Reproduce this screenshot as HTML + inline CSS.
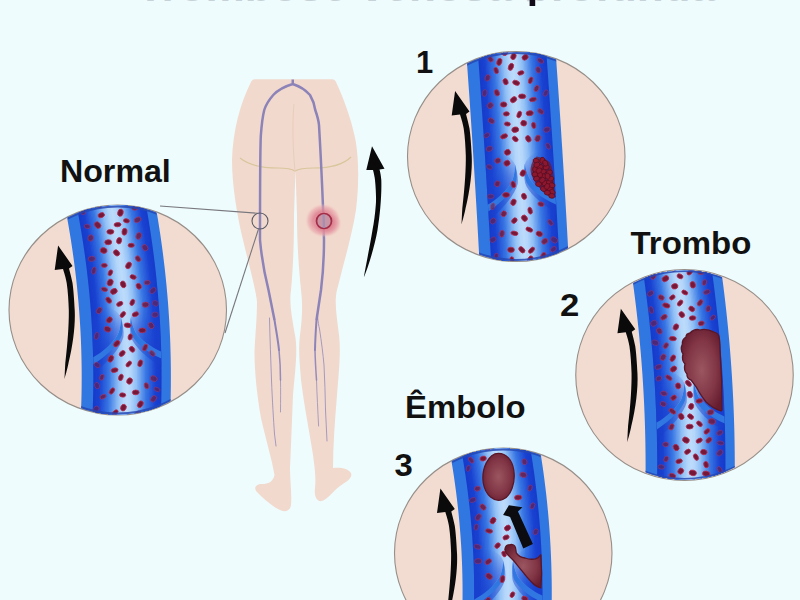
<!DOCTYPE html>
<html><head><meta charset="utf-8"><title>Trombose venosa profunda</title>
<style>
html,body{margin:0;padding:0;background:#eefcfd;overflow:hidden}
svg{display:block}
text{font-family:"Liberation Sans",sans-serif;font-weight:bold;fill:#111}
</style></head>
<body>
<svg width="800" height="600" viewBox="0 0 800 600">
<defs>
  <radialGradient id="clot" cx="0.5" cy="0.5" r="0.6">
    <stop offset="0" stop-color="#9a5660"/>
    <stop offset="0.6" stop-color="#823646"/>
    <stop offset="1" stop-color="#651c2e"/>
  </radialGradient>
  <radialGradient id="glow">
    <stop offset="0" stop-color="#d4607a" stop-opacity="1"/>
    <stop offset="0.55" stop-color="#de8292" stop-opacity="0.85"/>
    <stop offset="0.82" stop-color="#e8a2aa" stop-opacity="0.55"/>
    <stop offset="1" stop-color="#f0c8c4" stop-opacity="0"/>
  </radialGradient>
  <linearGradient id="pocket" x1="0" x2="0" y1="0" y2="1">
    <stop offset="0" stop-color="#1a43d2" stop-opacity="0"/>
    <stop offset="0.45" stop-color="#1a43d2" stop-opacity="0.45"/>
    <stop offset="1" stop-color="#183fce" stop-opacity="0.8"/>
  </linearGradient>
  <clipPath id="toprow"><rect x="0" y="0" width="800" height="1.3"/></clipPath>
  <clipPath id="cc"><ellipse rx="108.2" ry="104.4"/></clipPath>
</defs>
<rect width="800" height="600" fill="#eefcfd"/>
<g>
<!-- cropped title remnants -->
<g clip-path="url(#toprow)"><text x="137" y="1.2" font-size="44" textLength="578" lengthAdjust="spacingAndGlyphs" style="fill:#c6d2d7">Trombose venosa profunda</text></g>
<rect x="529.6" y="-1" width="5.6" height="7" fill="#120a18"/>

<path d="M255,79.2 L332,79.2 C334,79.2 335,80 336,82 C342,95 351,117 355.5,140 C359,160 359,185 356,210 C352,235 344,262 337,290 C334,302 337,318 339,335 C341,350 339,372 337,395 C335,420 333,445 333,468
 C340,467 348,468 351,473 C353,478 346,482 340,486 C333,491 328,499 322,501 C317,502 314,497 315,488 C316,478 315,470 313,455 C310,435 304,405 301,380 C300,365 298,350 300,335 C302,320 303,305 301,290 C299,270 297,245 297,215 L295.5,170 L294,215
 C294,245 293,270 291,290 C289,302 292,318 295,335 C298,350 295,372 293,395 C292,420 291,445 290,468 C290,480 292,495 291,505 C290,512 284,513 276,508 C268,503 262,497 257,492 C253,488 256,484 262,484 C268,484 273,482 274.5,475
 C272,460 266,440 261,418 C257,395 254.5,372 254.5,352 C255,338 257,318 257,302 C256,290 249,265 243,240 C237,215 232,185 232,160 C233,130 240,104 251,82 C252,80 253,79.2 255,79.2 Z" fill="#f2d9cd"/>
<!-- gluteal lines -->
<path d="M240,158 C250,166 265,168 278,168 C288,168 292,169 295,171 C298,169 304,168 314,168 C328,168 342,166 351,157" fill="none" stroke="#d8c69c" stroke-width="1.2"/>
<path d="M294,104 C292,125 293,150 295,171" fill="none" stroke="#e6cdbc" stroke-width="1"/>
<!-- veins -->
<g fill="none" stroke="#8c83b8" stroke-width="2.5" stroke-linecap="butt">
<path d="M292.75,79.5 L292.75,84 C286,86 278,90 273.25,95 C268,101 265.5,106 264.25,110 C262.5,117 261.5,126 260.8,136 C260.2,150 260,200 260,240 C262,262 266,280 268.5,290 C270.5,300 272.5,310 274.5,320"/>
<path d="M292.75,84 C299,86 306,90.5 310,95 C313,100 314.5,105 315.25,110 C317,115 318.5,120 319,125 C321,160 323,195 324,240 C324,260 322.5,278 321,290 C319.5,300 318,310 316.5,320"/>
</g>
<g fill="none" stroke="#8c83b8" stroke-linecap="round">
<path d="M274.5,320 C276,330 278,340 279,350" stroke-width="2"/>
<path d="M279,350 C280,360 280.5,370 280.5,380" stroke-width="1.5" opacity="0.9"/>
<path d="M280.5,380 C280.7,390 280.6,400 280.5,412" stroke-width="1" opacity="0.7"/>
<path d="M269.5,318 C270,340 270.8,360 271.5,380 C272.3,400 273.5,420 274.5,434 L276,446" stroke-width="1" opacity="0.75"/>
<path d="M316.5,320 C315.8,330 315.2,340 315,350" stroke-width="2"/>
<path d="M315,350 C315.2,360 315.8,370 316.5,380" stroke-width="1.5" opacity="0.9"/>
<path d="M316.5,380 C317,395 317.8,410 318.6,426" stroke-width="1" opacity="0.7"/>
<path d="M317.5,316 C318,322 318.8,326 319.5,329 C321.5,342 323,354 324,365 C324.8,380 325.2,395 325.5,410 L327,441" stroke-width="1" opacity="0.75"/>
</g>
<!-- dvt spot -->
<ellipse cx="323" cy="220.5" rx="18" ry="17" fill="url(#glow)"/><ellipse cx="327" cy="224" rx="15" ry="13" fill="url(#glow)" opacity="0.6"/>
<circle cx="324" cy="221" r="7.5" fill="#c994a4" stroke="#a42e48" stroke-width="1.7"/>
<path d="M323.6,214.5 L324,228" stroke="#9a8fb8" stroke-width="2.2" opacity="0.8"/>
<!-- callout -->
<circle cx="260" cy="221" r="8" fill="none" stroke="#5a5a66" stroke-width="1.1"/>
<path d="M257.5,213.2 L160,206" stroke="#77777d" stroke-width="1.1" fill="none"/>
<path d="M258.5,229 L225,333" stroke="#77777d" stroke-width="1.1" fill="none"/>
<!-- big arrow -->
<path d="M363.8,277.5 C368,268 375,245 377.5,230 C380,215 381.8,195 381.3,180 C381,176 380.3,172 379.5,169.5 L384.5,168.8 L372,146.3 L366.3,170 L373,170 C374,174 374.7,177 375,180 C376,190 376.3,200 375.8,205 C375,215 374,222 372.5,230 C370,245 366,265 363.8,277.5 Z" fill="#0a0a0a"/>


<g transform="translate(117.75 310)">
  <ellipse rx="108.75" ry="105" fill="#f2dbd0" stroke="#968e88" stroke-width="1.1"/>
  <g clip-path="url(#cc)">
    <g fill="none" stroke-linejoin="round">
<path d="M-9.78,-116 L-8.21,-108 L-6.72,-100 L-5.30,-92 L-3.94,-84 L-2.66,-76 L-1.44,-68 L-0.30,-60 L0.78,-52 L1.79,-44 L2.72,-36 L3.59,-28 L4.38,-20 L5.11,-12 L5.77,-4 L6.35,4 L6.87,12 L7.32,20 L7.70,28 L8.01,36 L8.24,44 L8.41,52 L8.51,60 L8.54,68 L8.50,76 L8.39,84 L8.21,92 L7.96,100 L7.64,108 L7.25,116" stroke="#3177e2" stroke-width="89.2"/>
<path d="M-8.63,-116 L-7.06,-108 L-5.57,-100 L-4.15,-92 L-2.79,-84 L-1.51,-76 L-0.29,-68 L0.85,-60 L1.93,-52 L2.94,-44 L3.87,-36 L4.74,-28 L5.53,-20 L6.26,-12 L6.92,-4 L7.50,4 L8.02,12 L8.47,20 L8.85,28 L9.16,36 L9.39,44 L9.56,52 L9.66,60 L9.69,68 L9.65,76 L9.54,84 L9.36,92 L9.11,100 L8.79,108 L8.40,116" stroke="#173bcb" stroke-width="68.30"/>
<path d="M-8.63,-116 L-7.06,-108 L-5.57,-100 L-4.15,-92 L-2.79,-84 L-1.51,-76 L-0.29,-68 L0.85,-60 L1.93,-52 L2.94,-44 L3.87,-36 L4.74,-28 L5.53,-20 L6.26,-12 L6.92,-4 L7.50,4 L8.02,12 L8.47,20 L8.85,28 L9.16,36 L9.39,44 L9.56,52 L9.66,60 L9.69,68 L9.65,76 L9.54,84 L9.36,92 L9.11,100 L8.79,108 L8.40,116" stroke="#183dcd" stroke-width="65.57"/>
<path d="M-8.63,-116 L-7.06,-108 L-5.57,-100 L-4.15,-92 L-2.79,-84 L-1.51,-76 L-0.29,-68 L0.85,-60 L1.93,-52 L2.94,-44 L3.87,-36 L4.74,-28 L5.53,-20 L6.26,-12 L6.92,-4 L7.50,4 L8.02,12 L8.47,20 L8.85,28 L9.16,36 L9.39,44 L9.56,52 L9.66,60 L9.69,68 L9.65,76 L9.54,84 L9.36,92 L9.11,100 L8.79,108 L8.40,116" stroke="#183fce" stroke-width="62.84"/>
<path d="M-8.63,-116 L-7.06,-108 L-5.57,-100 L-4.15,-92 L-2.79,-84 L-1.51,-76 L-0.29,-68 L0.85,-60 L1.93,-52 L2.94,-44 L3.87,-36 L4.74,-28 L5.53,-20 L6.26,-12 L6.92,-4 L7.50,4 L8.02,12 L8.47,20 L8.85,28 L9.16,36 L9.39,44 L9.56,52 L9.66,60 L9.69,68 L9.65,76 L9.54,84 L9.36,92 L9.11,100 L8.79,108 L8.40,116" stroke="#1941d0" stroke-width="60.10"/>
<path d="M-8.63,-116 L-7.06,-108 L-5.57,-100 L-4.15,-92 L-2.79,-84 L-1.51,-76 L-0.29,-68 L0.85,-60 L1.93,-52 L2.94,-44 L3.87,-36 L4.74,-28 L5.53,-20 L6.26,-12 L6.92,-4 L7.50,4 L8.02,12 L8.47,20 L8.85,28 L9.16,36 L9.39,44 L9.56,52 L9.66,60 L9.69,68 L9.65,76 L9.54,84 L9.36,92 L9.11,100 L8.79,108 L8.40,116" stroke="#1a43d2" stroke-width="57.37"/>
<path d="M-8.63,-116 L-7.06,-108 L-5.57,-100 L-4.15,-92 L-2.79,-84 L-1.51,-76 L-0.29,-68 L0.85,-60 L1.93,-52 L2.94,-44 L3.87,-36 L4.74,-28 L5.53,-20 L6.26,-12 L6.92,-4 L7.50,4 L8.02,12 L8.47,20 L8.85,28 L9.16,36 L9.39,44 L9.56,52 L9.66,60 L9.69,68 L9.65,76 L9.54,84 L9.36,92 L9.11,100 L8.79,108 L8.40,116" stroke="#1f4bd5" stroke-width="54.64"/>
<path d="M-8.63,-116 L-7.06,-108 L-5.57,-100 L-4.15,-92 L-2.79,-84 L-1.51,-76 L-0.29,-68 L0.85,-60 L1.93,-52 L2.94,-44 L3.87,-36 L4.74,-28 L5.53,-20 L6.26,-12 L6.92,-4 L7.50,4 L8.02,12 L8.47,20 L8.85,28 L9.16,36 L9.39,44 L9.56,52 L9.66,60 L9.69,68 L9.65,76 L9.54,84 L9.36,92 L9.11,100 L8.79,108 L8.40,116" stroke="#2352d7" stroke-width="51.91"/>
<path d="M-8.63,-116 L-7.06,-108 L-5.57,-100 L-4.15,-92 L-2.79,-84 L-1.51,-76 L-0.29,-68 L0.85,-60 L1.93,-52 L2.94,-44 L3.87,-36 L4.74,-28 L5.53,-20 L6.26,-12 L6.92,-4 L7.50,4 L8.02,12 L8.47,20 L8.85,28 L9.16,36 L9.39,44 L9.56,52 L9.66,60 L9.69,68 L9.65,76 L9.54,84 L9.36,92 L9.11,100 L8.79,108 L8.40,116" stroke="#285ada" stroke-width="49.18"/>
<path d="M-8.63,-116 L-7.06,-108 L-5.57,-100 L-4.15,-92 L-2.79,-84 L-1.51,-76 L-0.29,-68 L0.85,-60 L1.93,-52 L2.94,-44 L3.87,-36 L4.74,-28 L5.53,-20 L6.26,-12 L6.92,-4 L7.50,4 L8.02,12 L8.47,20 L8.85,28 L9.16,36 L9.39,44 L9.56,52 L9.66,60 L9.69,68 L9.65,76 L9.54,84 L9.36,92 L9.11,100 L8.79,108 L8.40,116" stroke="#2c61dc" stroke-width="46.44"/>
<path d="M-8.63,-116 L-7.06,-108 L-5.57,-100 L-4.15,-92 L-2.79,-84 L-1.51,-76 L-0.29,-68 L0.85,-60 L1.93,-52 L2.94,-44 L3.87,-36 L4.74,-28 L5.53,-20 L6.26,-12 L6.92,-4 L7.50,4 L8.02,12 L8.47,20 L8.85,28 L9.16,36 L9.39,44 L9.56,52 L9.66,60 L9.69,68 L9.65,76 L9.54,84 L9.36,92 L9.11,100 L8.79,108 L8.40,116" stroke="#3169df" stroke-width="43.71"/>
<path d="M-8.63,-116 L-7.06,-108 L-5.57,-100 L-4.15,-92 L-2.79,-84 L-1.51,-76 L-0.29,-68 L0.85,-60 L1.93,-52 L2.94,-44 L3.87,-36 L4.74,-28 L5.53,-20 L6.26,-12 L6.92,-4 L7.50,4 L8.02,12 L8.47,20 L8.85,28 L9.16,36 L9.39,44 L9.56,52 L9.66,60 L9.69,68 L9.65,76 L9.54,84 L9.36,92 L9.11,100 L8.79,108 L8.40,116" stroke="#3570e1" stroke-width="40.98"/>
<path d="M-8.63,-116 L-7.06,-108 L-5.57,-100 L-4.15,-92 L-2.79,-84 L-1.51,-76 L-0.29,-68 L0.85,-60 L1.93,-52 L2.94,-44 L3.87,-36 L4.74,-28 L5.53,-20 L6.26,-12 L6.92,-4 L7.50,4 L8.02,12 L8.47,20 L8.85,28 L9.16,36 L9.39,44 L9.56,52 L9.66,60 L9.69,68 L9.65,76 L9.54,84 L9.36,92 L9.11,100 L8.79,108 L8.40,116" stroke="#3a78e4" stroke-width="38.25"/>
<path d="M-8.63,-116 L-7.06,-108 L-5.57,-100 L-4.15,-92 L-2.79,-84 L-1.51,-76 L-0.29,-68 L0.85,-60 L1.93,-52 L2.94,-44 L3.87,-36 L4.74,-28 L5.53,-20 L6.26,-12 L6.92,-4 L7.50,4 L8.02,12 L8.47,20 L8.85,28 L9.16,36 L9.39,44 L9.56,52 L9.66,60 L9.69,68 L9.65,76 L9.54,84 L9.36,92 L9.11,100 L8.79,108 L8.40,116" stroke="#4782e7" stroke-width="35.52"/>
<path d="M-8.63,-116 L-7.06,-108 L-5.57,-100 L-4.15,-92 L-2.79,-84 L-1.51,-76 L-0.29,-68 L0.85,-60 L1.93,-52 L2.94,-44 L3.87,-36 L4.74,-28 L5.53,-20 L6.26,-12 L6.92,-4 L7.50,4 L8.02,12 L8.47,20 L8.85,28 L9.16,36 L9.39,44 L9.56,52 L9.66,60 L9.69,68 L9.65,76 L9.54,84 L9.36,92 L9.11,100 L8.79,108 L8.40,116" stroke="#538de9" stroke-width="32.78"/>
<path d="M-8.63,-116 L-7.06,-108 L-5.57,-100 L-4.15,-92 L-2.79,-84 L-1.51,-76 L-0.29,-68 L0.85,-60 L1.93,-52 L2.94,-44 L3.87,-36 L4.74,-28 L5.53,-20 L6.26,-12 L6.92,-4 L7.50,4 L8.02,12 L8.47,20 L8.85,28 L9.16,36 L9.39,44 L9.56,52 L9.66,60 L9.69,68 L9.65,76 L9.54,84 L9.36,92 L9.11,100 L8.79,108 L8.40,116" stroke="#6097ec" stroke-width="30.05"/>
<path d="M-8.63,-116 L-7.06,-108 L-5.57,-100 L-4.15,-92 L-2.79,-84 L-1.51,-76 L-0.29,-68 L0.85,-60 L1.93,-52 L2.94,-44 L3.87,-36 L4.74,-28 L5.53,-20 L6.26,-12 L6.92,-4 L7.50,4 L8.02,12 L8.47,20 L8.85,28 L9.16,36 L9.39,44 L9.56,52 L9.66,60 L9.69,68 L9.65,76 L9.54,84 L9.36,92 L9.11,100 L8.79,108 L8.40,116" stroke="#6ca1ee" stroke-width="27.32"/>
<path d="M-8.63,-116 L-7.06,-108 L-5.57,-100 L-4.15,-92 L-2.79,-84 L-1.51,-76 L-0.29,-68 L0.85,-60 L1.93,-52 L2.94,-44 L3.87,-36 L4.74,-28 L5.53,-20 L6.26,-12 L6.92,-4 L7.50,4 L8.02,12 L8.47,20 L8.85,28 L9.16,36 L9.39,44 L9.56,52 L9.66,60 L9.69,68 L9.65,76 L9.54,84 L9.36,92 L9.11,100 L8.79,108 L8.40,116" stroke="#79abf1" stroke-width="24.59"/>
<path d="M-8.63,-116 L-7.06,-108 L-5.57,-100 L-4.15,-92 L-2.79,-84 L-1.51,-76 L-0.29,-68 L0.85,-60 L1.93,-52 L2.94,-44 L3.87,-36 L4.74,-28 L5.53,-20 L6.26,-12 L6.92,-4 L7.50,4 L8.02,12 L8.47,20 L8.85,28 L9.16,36 L9.39,44 L9.56,52 L9.66,60 L9.69,68 L9.65,76 L9.54,84 L9.36,92 L9.11,100 L8.79,108 L8.40,116" stroke="#85b6f3" stroke-width="21.86"/>
<path d="M-8.63,-116 L-7.06,-108 L-5.57,-100 L-4.15,-92 L-2.79,-84 L-1.51,-76 L-0.29,-68 L0.85,-60 L1.93,-52 L2.94,-44 L3.87,-36 L4.74,-28 L5.53,-20 L6.26,-12 L6.92,-4 L7.50,4 L8.02,12 L8.47,20 L8.85,28 L9.16,36 L9.39,44 L9.56,52 L9.66,60 L9.69,68 L9.65,76 L9.54,84 L9.36,92 L9.11,100 L8.79,108 L8.40,116" stroke="#92c0f6" stroke-width="19.12"/>
<path d="M-8.63,-116 L-7.06,-108 L-5.57,-100 L-4.15,-92 L-2.79,-84 L-1.51,-76 L-0.29,-68 L0.85,-60 L1.93,-52 L2.94,-44 L3.87,-36 L4.74,-28 L5.53,-20 L6.26,-12 L6.92,-4 L7.50,4 L8.02,12 L8.47,20 L8.85,28 L9.16,36 L9.39,44 L9.56,52 L9.66,60 L9.69,68 L9.65,76 L9.54,84 L9.36,92 L9.11,100 L8.79,108 L8.40,116" stroke="#9ac6f7" stroke-width="16.39"/>
<path d="M-8.63,-116 L-7.06,-108 L-5.57,-100 L-4.15,-92 L-2.79,-84 L-1.51,-76 L-0.29,-68 L0.85,-60 L1.93,-52 L2.94,-44 L3.87,-36 L4.74,-28 L5.53,-20 L6.26,-12 L6.92,-4 L7.50,4 L8.02,12 L8.47,20 L8.85,28 L9.16,36 L9.39,44 L9.56,52 L9.66,60 L9.69,68 L9.65,76 L9.54,84 L9.36,92 L9.11,100 L8.79,108 L8.40,116" stroke="#a3cbf8" stroke-width="13.66"/>
<path d="M-8.63,-116 L-7.06,-108 L-5.57,-100 L-4.15,-92 L-2.79,-84 L-1.51,-76 L-0.29,-68 L0.85,-60 L1.93,-52 L2.94,-44 L3.87,-36 L4.74,-28 L5.53,-20 L6.26,-12 L6.92,-4 L7.50,4 L8.02,12 L8.47,20 L8.85,28 L9.16,36 L9.39,44 L9.56,52 L9.66,60 L9.69,68 L9.65,76 L9.54,84 L9.36,92 L9.11,100 L8.79,108 L8.40,116" stroke="#acd0f9" stroke-width="10.93"/>
<path d="M-8.63,-116 L-7.06,-108 L-5.57,-100 L-4.15,-92 L-2.79,-84 L-1.51,-76 L-0.29,-68 L0.85,-60 L1.93,-52 L2.94,-44 L3.87,-36 L4.74,-28 L5.53,-20 L6.26,-12 L6.92,-4 L7.50,4 L8.02,12 L8.47,20 L8.85,28 L9.16,36 L9.39,44 L9.56,52 L9.66,60 L9.69,68 L9.65,76 L9.54,84 L9.36,92 L9.11,100 L8.79,108 L8.40,116" stroke="#b4d6fa" stroke-width="8.20"/>
<path d="M-8.63,-116 L-7.06,-108 L-5.57,-100 L-4.15,-92 L-2.79,-84 L-1.51,-76 L-0.29,-68 L0.85,-60 L1.93,-52 L2.94,-44 L3.87,-36 L4.74,-28 L5.53,-20 L6.26,-12 L6.92,-4 L7.50,4 L8.02,12 L8.47,20 L8.85,28 L9.16,36 L9.39,44 L9.56,52 L9.66,60 L9.69,68 L9.65,76 L9.54,84 L9.36,92 L9.11,100 L8.79,108 L8.40,116" stroke="#b7d8fa" stroke-width="5.46"/>
<path d="M-8.63,-116 L-7.06,-108 L-5.57,-100 L-4.15,-92 L-2.79,-84 L-1.51,-76 L-0.29,-68 L0.85,-60 L1.93,-52 L2.94,-44 L3.87,-36 L4.74,-28 L5.53,-20 L6.26,-12 L6.92,-4 L7.50,4 L8.02,12 L8.47,20 L8.85,28 L9.16,36 L9.39,44 L9.56,52 L9.66,60 L9.69,68 L9.65,76 L9.54,84 L9.36,92 L9.11,100 L8.79,108 L8.40,116" stroke="#b9d9fb" stroke-width="2.73"/>
<path d="M-8.63,-116 L-7.06,-108 L-5.57,-100 L-4.15,-92 L-2.79,-84 L-1.51,-76 L-0.29,-68 L0.85,-60 L1.93,-52 L2.94,-44 L3.87,-36 L4.74,-28 L5.53,-20 L6.26,-12 L6.92,-4 L7.50,4 L8.02,12 L8.47,20 L8.85,28 L9.16,36 L9.39,44 L9.56,52 L9.66,60 L9.69,68 L9.65,76 L9.54,84 L9.36,92 L9.11,100 L8.79,108 L8.40,116" stroke="#bcdbfb" stroke-width="2.00"/>
</g>
<g transform="translate(8.78 30) rotate(-2.33)">
  <path d="M-4.5,-22 C-5,-16 -6.5,-10 -8.5,-6 C-14,3 -24,11 -34,16 L-34,-34 C-22,-36 -9,-34 -4.5,-22 Z" fill="url(#pocket)"/>
  <path d="M5.2,-22 C6,-16 7.5,-11 10,-6 C15,1 24,8 34,13 L34,-34 C24,-36 10,-34 5.2,-22 Z" fill="url(#pocket)"/>
  <path d="M-34,21 C-20,13 -10,4 -5.5,-5 C-4.5,-10 -4,-16 -4.5,-22 C-3,-16 -2,-9 -3,-3 C-6.5,8 -18,20 -34,32 Z" fill="#1a40cc" opacity="0.45"/>
  <path d="M34,18 C24,13 14,5 8,-4 C6,-10 5.5,-16 5.2,-22 C4,-16 3.5,-9 4.5,-3 C7,6 18,18 34,28 Z" fill="#1a40cc" opacity="0.45"/>
  <path d="M-34,16 C-24,11 -14,3 -8.5,-6 C-6.5,-10 -5,-16 -4.5,-22 C-3.5,-16 -3,-10 -4.5,-5 C-8.5,4 -18,13 -34,23 Z" fill="#3177e2"/>
  <path d="M34,13 C24,8 15,1 10,-6 C7.5,-11 6,-16 5.2,-22 C4.5,-16 4.5,-10 5.5,-5 C8,2 18,12 34,20 Z" fill="#3177e2"/>
</g>
    <g fill="#751838" stroke="#b62e54" stroke-width="0.8">
      <ellipse cx="-8.4" cy="9.9" rx="3.2" ry="2.6" opacity="0.97" transform="rotate(-48 -8.4 9.9)"/>
<ellipse cx="2.7" cy="-97.3" rx="3.6" ry="2.7" opacity="1.00" transform="rotate(-75 2.7 -97.3)"/>
<ellipse cx="-20.7" cy="75.6" rx="3.3" ry="2.4" opacity="0.56" transform="rotate(72 -20.7 75.6)"/>
<ellipse cx="-14.1" cy="-59.5" rx="3.4" ry="2.8" opacity="1.00" transform="rotate(13 -14.1 -59.5)"/>
<ellipse cx="37.6" cy="-6.7" rx="3.2" ry="2.7" opacity="0.54" transform="rotate(30 37.6 -6.7)"/>
<ellipse cx="27.8" cy="-5.3" rx="3.4" ry="2.6" opacity="0.83" transform="rotate(-3 27.8 -5.3)"/>
<ellipse cx="6.8" cy="-78.3" rx="3.5" ry="2.5" opacity="1.00" transform="rotate(-80 6.8 -78.3)"/>
<ellipse cx="18.0" cy="82.4" rx="3.4" ry="2.4" opacity="1.00" transform="rotate(-1 18.0 82.4)"/>
<ellipse cx="11.0" cy="54.0" rx="3.4" ry="2.0" opacity="1.00" transform="rotate(-49 11.0 54.0)"/>
<ellipse cx="24.6" cy="20.4" rx="3.5" ry="2.4" opacity="0.97" transform="rotate(0 24.6 20.4)"/>
<ellipse cx="-18.9" cy="-105.1" rx="3.7" ry="2.7" opacity="1.00" transform="rotate(11 -18.9 -105.1)"/>
<ellipse cx="22.6" cy="94.3" rx="3.6" ry="2.5" opacity="1.00" transform="rotate(-58 22.6 94.3)"/>
<ellipse cx="3.1" cy="67.4" rx="3.3" ry="2.2" opacity="1.00" transform="rotate(-72 3.1 67.4)"/>
<ellipse cx="5.7" cy="97.6" rx="3.4" ry="2.7" opacity="1.00" transform="rotate(-68 5.7 97.6)"/>
<ellipse cx="19.8" cy="-90.2" rx="3.6" ry="2.6" opacity="0.75" transform="rotate(-28 19.8 -90.2)"/>
<ellipse cx="10.8" cy="-44.6" rx="3.6" ry="2.5" opacity="1.00" transform="rotate(-59 10.8 -44.6)"/>
<ellipse cx="5.4" cy="-25.6" rx="3.5" ry="2.6" opacity="1.00" transform="rotate(68 5.4 -25.6)"/>
<ellipse cx="30.9" cy="110.0" rx="3.6" ry="2.7" opacity="0.79" transform="rotate(-25 30.9 110.0)"/>
<ellipse cx="33.4" cy="15.5" rx="3.3" ry="2.6" opacity="0.70" transform="rotate(58 33.4 15.5)"/>
<ellipse cx="13.5" cy="-64.7" rx="3.1" ry="2.0" opacity="1.00" transform="rotate(-2 13.5 -64.7)"/>
<ellipse cx="-15.9" cy="67.3" rx="3.1" ry="2.1" opacity="0.70" transform="rotate(-68 -15.9 67.3)"/>
<ellipse cx="-7.4" cy="-78.2" rx="3.5" ry="2.4" opacity="1.00" transform="rotate(-0 -7.4 -78.2)"/>
<ellipse cx="-3.2" cy="60.2" rx="3.5" ry="2.2" opacity="1.00" transform="rotate(-12 -3.2 60.2)"/>
<ellipse cx="17.3" cy="-102.1" rx="3.5" ry="2.3" opacity="0.76" transform="rotate(-6 17.3 -102.1)"/>
<ellipse cx="9.0" cy="111.7" rx="3.6" ry="2.6" opacity="1.00" transform="rotate(-51 9.0 111.7)"/>
<ellipse cx="-16.5" cy="-94.8" rx="3.3" ry="2.4" opacity="1.00" transform="rotate(-21 -16.5 -94.8)"/>
<ellipse cx="-13.4" cy="-20.6" rx="3.2" ry="2.0" opacity="0.90" transform="rotate(15 -13.4 -20.6)"/>
<ellipse cx="-2.6" cy="102.7" rx="3.5" ry="2.1" opacity="1.00" transform="rotate(-47 -2.6 102.7)"/>
<ellipse cx="29.5" cy="-27.4" rx="3.1" ry="2.2" opacity="0.72" transform="rotate(-6 29.5 -27.4)"/>
<ellipse cx="5.1" cy="4.5" rx="3.3" ry="2.1" opacity="1.00" transform="rotate(-53 5.1 4.5)"/>
<ellipse cx="12.5" cy="26.9" rx="3.1" ry="2.1" opacity="1.00" transform="rotate(-76 12.5 26.9)"/>
<ellipse cx="-13.5" cy="-44.6" rx="3.0" ry="2.0" opacity="0.97" transform="rotate(-2 -13.5 -44.6)"/>
<ellipse cx="37.3" cy="4.7" rx="3.3" ry="2.6" opacity="0.57" transform="rotate(-8 37.3 4.7)"/>
<ellipse cx="-4.3" cy="-109.4" rx="3.3" ry="2.3" opacity="1.00" transform="rotate(-72 -4.3 -109.4)"/>
<ellipse cx="-21.1" cy="25.9" rx="3.7" ry="2.2" opacity="0.57" transform="rotate(-76 -21.1 25.9)"/>
<ellipse cx="14.6" cy="-7.6" rx="3.3" ry="2.1" opacity="1.00" transform="rotate(-65 14.6 -7.6)"/>
<ellipse cx="15.4" cy="-33.0" rx="3.2" ry="2.1" opacity="1.00" transform="rotate(20 15.4 -33.0)"/>
<ellipse cx="22.5" cy="53.3" rx="3.5" ry="2.2" opacity="1.00" transform="rotate(-72 22.5 53.3)"/>
<ellipse cx="-35.1" cy="-98.4" rx="3.3" ry="2.7" opacity="0.58" transform="rotate(46 -35.1 -98.4)"/>
<ellipse cx="19.9" cy="103.8" rx="3.2" ry="2.2" opacity="1.00" transform="rotate(-32 19.9 103.8)"/>
<ellipse cx="-9.1" cy="-9.8" rx="3.4" ry="2.3" opacity="1.00" transform="rotate(50 -9.1 -9.8)"/>
<ellipse cx="-7.6" cy="-27.5" rx="3.5" ry="2.8" opacity="1.00" transform="rotate(-65 -7.6 -27.5)"/>
<ellipse cx="8.7" cy="-89.2" rx="3.0" ry="2.0" opacity="1.00" transform="rotate(15 8.7 -89.2)"/>
<ellipse cx="-7.4" cy="-37.2" rx="3.1" ry="2.0" opacity="1.00" transform="rotate(-66 -7.4 -37.2)"/>
<ellipse cx="20.9" cy="-74.1" rx="3.5" ry="2.7" opacity="0.79" transform="rotate(-71 20.9 -74.1)"/>
<ellipse cx="-1.1" cy="33.7" rx="3.7" ry="2.4" opacity="1.00" transform="rotate(-48 -1.1 33.7)"/>
<ellipse cx="-20.1" cy="-84.9" rx="3.6" ry="2.8" opacity="0.95" transform="rotate(49 -20.1 -84.9)"/>
<ellipse cx="1.4" cy="-69.3" rx="3.2" ry="2.5" opacity="1.00" transform="rotate(-75 1.4 -69.3)"/>
<ellipse cx="28.8" cy="75.8" rx="3.1" ry="2.2" opacity="0.88" transform="rotate(71 28.8 75.8)"/>
<ellipse cx="20.3" cy="-51.3" rx="3.1" ry="2.3" opacity="0.91" transform="rotate(56 20.3 -51.3)"/>
<ellipse cx="-3.9" cy="-18.6" rx="3.5" ry="2.7" opacity="1.00" transform="rotate(-27 -3.9 -18.6)"/>
<ellipse cx="-21.7" cy="99.3" rx="3.5" ry="2.6" opacity="0.55" transform="rotate(-52 -21.7 99.3)"/>
<ellipse cx="27.2" cy="-62.3" rx="3.4" ry="2.7" opacity="0.66" transform="rotate(54 27.2 -62.3)"/>
<ellipse cx="17.7" cy="4.3" rx="3.3" ry="2.2" opacity="1.00" transform="rotate(-22 17.7 4.3)"/>
<ellipse cx="34.5" cy="43.4" rx="3.3" ry="2.2" opacity="0.71" transform="rotate(45 34.5 43.4)"/>
<ellipse cx="35.8" cy="88.8" rx="3.5" ry="2.5" opacity="0.67" transform="rotate(-53 35.8 88.8)"/>
<ellipse cx="-20.7" cy="54.9" rx="3.3" ry="2.4" opacity="0.56" transform="rotate(34 -20.7 54.9)"/>
<ellipse cx="-5.8" cy="81.0" rx="3.5" ry="2.0" opacity="1.00" transform="rotate(-55 -5.8 81.0)"/>
<ellipse cx="-9.5" cy="-67.8" rx="3.5" ry="2.5" opacity="1.00" transform="rotate(-5 -9.5 -67.8)"/>
<ellipse cx="11.8" cy="71.0" rx="3.2" ry="2.7" opacity="1.00" transform="rotate(-64 11.8 71.0)"/>
<ellipse cx="36.0" cy="68.6" rx="3.6" ry="2.7" opacity="0.67" transform="rotate(23 36.0 68.6)"/>
<ellipse cx="-26.0" cy="-51.2" rx="3.6" ry="2.6" opacity="0.63" transform="rotate(-8 -26.0 -51.2)"/>
<ellipse cx="2.0" cy="-6.1" rx="3.3" ry="2.1" opacity="1.00" transform="rotate(-27 2.0 -6.1)"/>
<ellipse cx="9.5" cy="-111.6" rx="3.7" ry="2.1" opacity="0.94" transform="rotate(-16 9.5 -111.6)"/>
<ellipse cx="-30.5" cy="-83.6" rx="3.1" ry="2.1" opacity="0.64" transform="rotate(11 -30.5 -83.6)"/>
<ellipse cx="39.2" cy="79.4" rx="3.2" ry="2.0" opacity="0.58" transform="rotate(24 39.2 79.4)"/>
<ellipse cx="-18.5" cy="0.5" rx="3.5" ry="2.5" opacity="0.70" transform="rotate(-56 -18.5 0.5)"/>
<ellipse cx="-27.1" cy="-72.0" rx="3.2" ry="2.8" opacity="0.68" transform="rotate(-78 -27.1 -72.0)"/>
<ellipse cx="4.4" cy="43.5" rx="3.4" ry="2.3" opacity="1.00" transform="rotate(-45 4.4 43.5)"/>
<ellipse cx="-1.2" cy="-57.1" rx="3.4" ry="2.6" opacity="1.00" transform="rotate(45 -1.2 -57.1)"/>
<ellipse cx="4.9" cy="85.0" rx="3.1" ry="2.1" opacity="1.00" transform="rotate(6 4.9 85.0)"/>
<ellipse cx="27.4" cy="37.5" rx="3.6" ry="2.1" opacity="0.91" transform="rotate(-67 27.4 37.5)"/>
<ellipse cx="-23.9" cy="-39.4" rx="3.7" ry="2.2" opacity="0.65" transform="rotate(-76 -23.9 -39.4)"/>
<ellipse cx="21.0" cy="-23.8" rx="3.1" ry="2.4" opacity="0.98" transform="rotate(63 21.0 -23.8)"/>
<ellipse cx="35.1" cy="-19.5" rx="3.6" ry="2.5" opacity="0.58" transform="rotate(-44 35.1 -19.5)"/>
<ellipse cx="-10.3" cy="19.2" rx="3.5" ry="2.7" opacity="0.90" transform="rotate(23 -10.3 19.2)"/>
<ellipse cx="-13.5" cy="110.0" rx="3.4" ry="2.4" opacity="0.80" transform="rotate(-25 -13.5 110.0)"/>
<ellipse cx="-7.0" cy="48.8" rx="3.6" ry="2.5" opacity="0.97" transform="rotate(-62 -7.0 48.8)"/>
<ellipse cx="14.3" cy="39.3" rx="3.1" ry="2.4" opacity="1.00" transform="rotate(50 14.3 39.3)"/>
<ellipse cx="-0.2" cy="-85.3" rx="3.5" ry="2.1" opacity="1.00" transform="rotate(-6 -0.2 -85.3)"/>
<ellipse cx="-14.7" cy="86.7" rx="3.3" ry="2.1" opacity="0.74" transform="rotate(-25 -14.7 86.7)"/>
<ellipse cx="9.9" cy="15.3" rx="3.5" ry="2.3" opacity="1.00" transform="rotate(8 9.9 15.3)"/>
    </g>
   
   <clipPath id="vc3"><path d="M-54.38,-116 L-52.81,-108 L-51.32,-100 L-49.90,-92 L-48.54,-84 L-47.26,-76 L-46.04,-68 L-44.90,-60 L-43.82,-52 L-42.81,-44 L-41.88,-36 L-41.01,-28 L-40.22,-20 L-39.49,-12 L-38.83,-4 L-38.25,4 L-37.73,12 L-37.28,20 L-36.90,28 L-36.59,36 L-36.36,44 L-36.19,52 L-36.09,60 L-36.06,68 L-36.10,76 L-36.21,84 L-36.39,92 L-36.64,100 L-36.96,108 L-37.35,116 L51.85,116 L52.24,108 L52.56,100 L52.81,92 L52.99,84 L53.10,76 L53.14,68 L53.11,60 L53.01,52 L52.84,44 L52.61,36 L52.30,28 L51.92,20 L51.47,12 L50.95,4 L50.37,-4 L49.71,-12 L48.98,-20 L48.19,-28 L47.32,-36 L46.39,-44 L45.38,-52 L44.30,-60 L43.16,-68 L41.94,-76 L40.66,-84 L39.30,-92 L37.88,-100 L36.39,-108 L34.82,-116 Z"/></clipPath>
   <ellipse rx="108.75" ry="105" fill="none" stroke="#2648b4" stroke-width="5" clip-path="url(#vc3)" opacity="0.85"/>
  </g>
  <g transform="translate(1.25 0)"><path d="M-54.5,69 C-52,60 -51,56 -50.5,53 C-46,35 -43.5,15 -44.3,0 C-44.8,-10 -45.5,-20 -46.5,-27 C-47.5,-32 -48.5,-36 -50,-41.5 L-46.5,-44 L-60.9,-64.5 L-64.3,-40 L-56,-41 C-54,-35 -53,-31 -52.3,-27 C-51,-18 -50.5,-9 -50.2,0 C-50,12 -51,30 -53.7,53 C-54,58 -54.2,63 -54.5,69 Z" fill="#0a0a0a"/></g>
</g>

<g transform="translate(516.25 156.5)">
  <ellipse rx="108.75" ry="105" fill="#f2dbd0" stroke="#968e88" stroke-width="1.1"/>
  <g clip-path="url(#cc)">
    <g fill="none" stroke-linejoin="round">
<path d="M-6.20,-116 L-5.61,-108 L-5.02,-100 L-4.44,-92 L-3.87,-84 L-3.30,-76 L-2.74,-68 L-2.18,-60 L-1.64,-52 L-1.09,-44 L-0.56,-36 L-0.03,-28 L0.50,-20 L1.01,-12 L1.53,-4 L2.03,4 L2.53,12 L3.02,20 L3.51,28 L3.99,36 L4.47,44 L4.94,52 L5.40,60 L5.86,68 L6.31,76 L6.75,84 L7.19,92 L7.62,100 L8.05,108 L8.47,116" stroke="#3177e2" stroke-width="89.2"/>
<path d="M-5.05,-116 L-4.46,-108 L-3.87,-100 L-3.29,-92 L-2.72,-84 L-2.15,-76 L-1.59,-68 L-1.03,-60 L-0.49,-52 L0.06,-44 L0.59,-36 L1.12,-28 L1.65,-20 L2.16,-12 L2.68,-4 L3.18,4 L3.68,12 L4.17,20 L4.66,28 L5.14,36 L5.62,44 L6.09,52 L6.55,60 L7.01,68 L7.46,76 L7.90,84 L8.34,92 L8.77,100 L9.20,108 L9.62,116" stroke="#173bcb" stroke-width="68.30"/>
<path d="M-5.05,-116 L-4.46,-108 L-3.87,-100 L-3.29,-92 L-2.72,-84 L-2.15,-76 L-1.59,-68 L-1.03,-60 L-0.49,-52 L0.06,-44 L0.59,-36 L1.12,-28 L1.65,-20 L2.16,-12 L2.68,-4 L3.18,4 L3.68,12 L4.17,20 L4.66,28 L5.14,36 L5.62,44 L6.09,52 L6.55,60 L7.01,68 L7.46,76 L7.90,84 L8.34,92 L8.77,100 L9.20,108 L9.62,116" stroke="#183dcd" stroke-width="65.57"/>
<path d="M-5.05,-116 L-4.46,-108 L-3.87,-100 L-3.29,-92 L-2.72,-84 L-2.15,-76 L-1.59,-68 L-1.03,-60 L-0.49,-52 L0.06,-44 L0.59,-36 L1.12,-28 L1.65,-20 L2.16,-12 L2.68,-4 L3.18,4 L3.68,12 L4.17,20 L4.66,28 L5.14,36 L5.62,44 L6.09,52 L6.55,60 L7.01,68 L7.46,76 L7.90,84 L8.34,92 L8.77,100 L9.20,108 L9.62,116" stroke="#183fce" stroke-width="62.84"/>
<path d="M-5.05,-116 L-4.46,-108 L-3.87,-100 L-3.29,-92 L-2.72,-84 L-2.15,-76 L-1.59,-68 L-1.03,-60 L-0.49,-52 L0.06,-44 L0.59,-36 L1.12,-28 L1.65,-20 L2.16,-12 L2.68,-4 L3.18,4 L3.68,12 L4.17,20 L4.66,28 L5.14,36 L5.62,44 L6.09,52 L6.55,60 L7.01,68 L7.46,76 L7.90,84 L8.34,92 L8.77,100 L9.20,108 L9.62,116" stroke="#1941d0" stroke-width="60.10"/>
<path d="M-5.05,-116 L-4.46,-108 L-3.87,-100 L-3.29,-92 L-2.72,-84 L-2.15,-76 L-1.59,-68 L-1.03,-60 L-0.49,-52 L0.06,-44 L0.59,-36 L1.12,-28 L1.65,-20 L2.16,-12 L2.68,-4 L3.18,4 L3.68,12 L4.17,20 L4.66,28 L5.14,36 L5.62,44 L6.09,52 L6.55,60 L7.01,68 L7.46,76 L7.90,84 L8.34,92 L8.77,100 L9.20,108 L9.62,116" stroke="#1a43d2" stroke-width="57.37"/>
<path d="M-5.05,-116 L-4.46,-108 L-3.87,-100 L-3.29,-92 L-2.72,-84 L-2.15,-76 L-1.59,-68 L-1.03,-60 L-0.49,-52 L0.06,-44 L0.59,-36 L1.12,-28 L1.65,-20 L2.16,-12 L2.68,-4 L3.18,4 L3.68,12 L4.17,20 L4.66,28 L5.14,36 L5.62,44 L6.09,52 L6.55,60 L7.01,68 L7.46,76 L7.90,84 L8.34,92 L8.77,100 L9.20,108 L9.62,116" stroke="#1f4bd5" stroke-width="54.64"/>
<path d="M-5.05,-116 L-4.46,-108 L-3.87,-100 L-3.29,-92 L-2.72,-84 L-2.15,-76 L-1.59,-68 L-1.03,-60 L-0.49,-52 L0.06,-44 L0.59,-36 L1.12,-28 L1.65,-20 L2.16,-12 L2.68,-4 L3.18,4 L3.68,12 L4.17,20 L4.66,28 L5.14,36 L5.62,44 L6.09,52 L6.55,60 L7.01,68 L7.46,76 L7.90,84 L8.34,92 L8.77,100 L9.20,108 L9.62,116" stroke="#2352d7" stroke-width="51.91"/>
<path d="M-5.05,-116 L-4.46,-108 L-3.87,-100 L-3.29,-92 L-2.72,-84 L-2.15,-76 L-1.59,-68 L-1.03,-60 L-0.49,-52 L0.06,-44 L0.59,-36 L1.12,-28 L1.65,-20 L2.16,-12 L2.68,-4 L3.18,4 L3.68,12 L4.17,20 L4.66,28 L5.14,36 L5.62,44 L6.09,52 L6.55,60 L7.01,68 L7.46,76 L7.90,84 L8.34,92 L8.77,100 L9.20,108 L9.62,116" stroke="#285ada" stroke-width="49.18"/>
<path d="M-5.05,-116 L-4.46,-108 L-3.87,-100 L-3.29,-92 L-2.72,-84 L-2.15,-76 L-1.59,-68 L-1.03,-60 L-0.49,-52 L0.06,-44 L0.59,-36 L1.12,-28 L1.65,-20 L2.16,-12 L2.68,-4 L3.18,4 L3.68,12 L4.17,20 L4.66,28 L5.14,36 L5.62,44 L6.09,52 L6.55,60 L7.01,68 L7.46,76 L7.90,84 L8.34,92 L8.77,100 L9.20,108 L9.62,116" stroke="#2c61dc" stroke-width="46.44"/>
<path d="M-5.05,-116 L-4.46,-108 L-3.87,-100 L-3.29,-92 L-2.72,-84 L-2.15,-76 L-1.59,-68 L-1.03,-60 L-0.49,-52 L0.06,-44 L0.59,-36 L1.12,-28 L1.65,-20 L2.16,-12 L2.68,-4 L3.18,4 L3.68,12 L4.17,20 L4.66,28 L5.14,36 L5.62,44 L6.09,52 L6.55,60 L7.01,68 L7.46,76 L7.90,84 L8.34,92 L8.77,100 L9.20,108 L9.62,116" stroke="#3169df" stroke-width="43.71"/>
<path d="M-5.05,-116 L-4.46,-108 L-3.87,-100 L-3.29,-92 L-2.72,-84 L-2.15,-76 L-1.59,-68 L-1.03,-60 L-0.49,-52 L0.06,-44 L0.59,-36 L1.12,-28 L1.65,-20 L2.16,-12 L2.68,-4 L3.18,4 L3.68,12 L4.17,20 L4.66,28 L5.14,36 L5.62,44 L6.09,52 L6.55,60 L7.01,68 L7.46,76 L7.90,84 L8.34,92 L8.77,100 L9.20,108 L9.62,116" stroke="#3570e1" stroke-width="40.98"/>
<path d="M-5.05,-116 L-4.46,-108 L-3.87,-100 L-3.29,-92 L-2.72,-84 L-2.15,-76 L-1.59,-68 L-1.03,-60 L-0.49,-52 L0.06,-44 L0.59,-36 L1.12,-28 L1.65,-20 L2.16,-12 L2.68,-4 L3.18,4 L3.68,12 L4.17,20 L4.66,28 L5.14,36 L5.62,44 L6.09,52 L6.55,60 L7.01,68 L7.46,76 L7.90,84 L8.34,92 L8.77,100 L9.20,108 L9.62,116" stroke="#3a78e4" stroke-width="38.25"/>
<path d="M-5.05,-116 L-4.46,-108 L-3.87,-100 L-3.29,-92 L-2.72,-84 L-2.15,-76 L-1.59,-68 L-1.03,-60 L-0.49,-52 L0.06,-44 L0.59,-36 L1.12,-28 L1.65,-20 L2.16,-12 L2.68,-4 L3.18,4 L3.68,12 L4.17,20 L4.66,28 L5.14,36 L5.62,44 L6.09,52 L6.55,60 L7.01,68 L7.46,76 L7.90,84 L8.34,92 L8.77,100 L9.20,108 L9.62,116" stroke="#4782e7" stroke-width="35.52"/>
<path d="M-5.05,-116 L-4.46,-108 L-3.87,-100 L-3.29,-92 L-2.72,-84 L-2.15,-76 L-1.59,-68 L-1.03,-60 L-0.49,-52 L0.06,-44 L0.59,-36 L1.12,-28 L1.65,-20 L2.16,-12 L2.68,-4 L3.18,4 L3.68,12 L4.17,20 L4.66,28 L5.14,36 L5.62,44 L6.09,52 L6.55,60 L7.01,68 L7.46,76 L7.90,84 L8.34,92 L8.77,100 L9.20,108 L9.62,116" stroke="#538de9" stroke-width="32.78"/>
<path d="M-5.05,-116 L-4.46,-108 L-3.87,-100 L-3.29,-92 L-2.72,-84 L-2.15,-76 L-1.59,-68 L-1.03,-60 L-0.49,-52 L0.06,-44 L0.59,-36 L1.12,-28 L1.65,-20 L2.16,-12 L2.68,-4 L3.18,4 L3.68,12 L4.17,20 L4.66,28 L5.14,36 L5.62,44 L6.09,52 L6.55,60 L7.01,68 L7.46,76 L7.90,84 L8.34,92 L8.77,100 L9.20,108 L9.62,116" stroke="#6097ec" stroke-width="30.05"/>
<path d="M-5.05,-116 L-4.46,-108 L-3.87,-100 L-3.29,-92 L-2.72,-84 L-2.15,-76 L-1.59,-68 L-1.03,-60 L-0.49,-52 L0.06,-44 L0.59,-36 L1.12,-28 L1.65,-20 L2.16,-12 L2.68,-4 L3.18,4 L3.68,12 L4.17,20 L4.66,28 L5.14,36 L5.62,44 L6.09,52 L6.55,60 L7.01,68 L7.46,76 L7.90,84 L8.34,92 L8.77,100 L9.20,108 L9.62,116" stroke="#6ca1ee" stroke-width="27.32"/>
<path d="M-5.05,-116 L-4.46,-108 L-3.87,-100 L-3.29,-92 L-2.72,-84 L-2.15,-76 L-1.59,-68 L-1.03,-60 L-0.49,-52 L0.06,-44 L0.59,-36 L1.12,-28 L1.65,-20 L2.16,-12 L2.68,-4 L3.18,4 L3.68,12 L4.17,20 L4.66,28 L5.14,36 L5.62,44 L6.09,52 L6.55,60 L7.01,68 L7.46,76 L7.90,84 L8.34,92 L8.77,100 L9.20,108 L9.62,116" stroke="#79abf1" stroke-width="24.59"/>
<path d="M-5.05,-116 L-4.46,-108 L-3.87,-100 L-3.29,-92 L-2.72,-84 L-2.15,-76 L-1.59,-68 L-1.03,-60 L-0.49,-52 L0.06,-44 L0.59,-36 L1.12,-28 L1.65,-20 L2.16,-12 L2.68,-4 L3.18,4 L3.68,12 L4.17,20 L4.66,28 L5.14,36 L5.62,44 L6.09,52 L6.55,60 L7.01,68 L7.46,76 L7.90,84 L8.34,92 L8.77,100 L9.20,108 L9.62,116" stroke="#85b6f3" stroke-width="21.86"/>
<path d="M-5.05,-116 L-4.46,-108 L-3.87,-100 L-3.29,-92 L-2.72,-84 L-2.15,-76 L-1.59,-68 L-1.03,-60 L-0.49,-52 L0.06,-44 L0.59,-36 L1.12,-28 L1.65,-20 L2.16,-12 L2.68,-4 L3.18,4 L3.68,12 L4.17,20 L4.66,28 L5.14,36 L5.62,44 L6.09,52 L6.55,60 L7.01,68 L7.46,76 L7.90,84 L8.34,92 L8.77,100 L9.20,108 L9.62,116" stroke="#92c0f6" stroke-width="19.12"/>
<path d="M-5.05,-116 L-4.46,-108 L-3.87,-100 L-3.29,-92 L-2.72,-84 L-2.15,-76 L-1.59,-68 L-1.03,-60 L-0.49,-52 L0.06,-44 L0.59,-36 L1.12,-28 L1.65,-20 L2.16,-12 L2.68,-4 L3.18,4 L3.68,12 L4.17,20 L4.66,28 L5.14,36 L5.62,44 L6.09,52 L6.55,60 L7.01,68 L7.46,76 L7.90,84 L8.34,92 L8.77,100 L9.20,108 L9.62,116" stroke="#9ac6f7" stroke-width="16.39"/>
<path d="M-5.05,-116 L-4.46,-108 L-3.87,-100 L-3.29,-92 L-2.72,-84 L-2.15,-76 L-1.59,-68 L-1.03,-60 L-0.49,-52 L0.06,-44 L0.59,-36 L1.12,-28 L1.65,-20 L2.16,-12 L2.68,-4 L3.18,4 L3.68,12 L4.17,20 L4.66,28 L5.14,36 L5.62,44 L6.09,52 L6.55,60 L7.01,68 L7.46,76 L7.90,84 L8.34,92 L8.77,100 L9.20,108 L9.62,116" stroke="#a3cbf8" stroke-width="13.66"/>
<path d="M-5.05,-116 L-4.46,-108 L-3.87,-100 L-3.29,-92 L-2.72,-84 L-2.15,-76 L-1.59,-68 L-1.03,-60 L-0.49,-52 L0.06,-44 L0.59,-36 L1.12,-28 L1.65,-20 L2.16,-12 L2.68,-4 L3.18,4 L3.68,12 L4.17,20 L4.66,28 L5.14,36 L5.62,44 L6.09,52 L6.55,60 L7.01,68 L7.46,76 L7.90,84 L8.34,92 L8.77,100 L9.20,108 L9.62,116" stroke="#acd0f9" stroke-width="10.93"/>
<path d="M-5.05,-116 L-4.46,-108 L-3.87,-100 L-3.29,-92 L-2.72,-84 L-2.15,-76 L-1.59,-68 L-1.03,-60 L-0.49,-52 L0.06,-44 L0.59,-36 L1.12,-28 L1.65,-20 L2.16,-12 L2.68,-4 L3.18,4 L3.68,12 L4.17,20 L4.66,28 L5.14,36 L5.62,44 L6.09,52 L6.55,60 L7.01,68 L7.46,76 L7.90,84 L8.34,92 L8.77,100 L9.20,108 L9.62,116" stroke="#b4d6fa" stroke-width="8.20"/>
<path d="M-5.05,-116 L-4.46,-108 L-3.87,-100 L-3.29,-92 L-2.72,-84 L-2.15,-76 L-1.59,-68 L-1.03,-60 L-0.49,-52 L0.06,-44 L0.59,-36 L1.12,-28 L1.65,-20 L2.16,-12 L2.68,-4 L3.18,4 L3.68,12 L4.17,20 L4.66,28 L5.14,36 L5.62,44 L6.09,52 L6.55,60 L7.01,68 L7.46,76 L7.90,84 L8.34,92 L8.77,100 L9.20,108 L9.62,116" stroke="#b7d8fa" stroke-width="5.46"/>
<path d="M-5.05,-116 L-4.46,-108 L-3.87,-100 L-3.29,-92 L-2.72,-84 L-2.15,-76 L-1.59,-68 L-1.03,-60 L-0.49,-52 L0.06,-44 L0.59,-36 L1.12,-28 L1.65,-20 L2.16,-12 L2.68,-4 L3.18,4 L3.68,12 L4.17,20 L4.66,28 L5.14,36 L5.62,44 L6.09,52 L6.55,60 L7.01,68 L7.46,76 L7.90,84 L8.34,92 L8.77,100 L9.20,108 L9.62,116" stroke="#b9d9fb" stroke-width="2.73"/>
<path d="M-5.05,-116 L-4.46,-108 L-3.87,-100 L-3.29,-92 L-2.72,-84 L-2.15,-76 L-1.59,-68 L-1.03,-60 L-0.49,-52 L0.06,-44 L0.59,-36 L1.12,-28 L1.65,-20 L2.16,-12 L2.68,-4 L3.18,4 L3.68,12 L4.17,20 L4.66,28 L5.14,36 L5.62,44 L6.09,52 L6.55,60 L7.01,68 L7.46,76 L7.90,84 L8.34,92 L8.77,100 L9.20,108 L9.62,116" stroke="#bcdbfb" stroke-width="2.00"/>
</g>
<g transform="translate(4.63 30) rotate(-3.45)">
  <path d="M-4.5,-22 C-5,-16 -6.5,-10 -8.5,-6 C-14,3 -24,11 -34,16 L-34,-34 C-22,-36 -9,-34 -4.5,-22 Z" fill="url(#pocket)"/>
  <path d="M5.2,-22 C6,-16 7.5,-11 10,-6 C15,1 24,8 34,13 L34,-34 C24,-36 10,-34 5.2,-22 Z" fill="url(#pocket)"/>
  <path d="M-34,21 C-20,13 -10,4 -5.5,-5 C-4.5,-10 -4,-16 -4.5,-22 C-3,-16 -2,-9 -3,-3 C-6.5,8 -18,20 -34,32 Z" fill="#1a40cc" opacity="0.45"/>
  <path d="M34,18 C24,13 14,5 8,-4 C6,-10 5.5,-16 5.2,-22 C4,-16 3.5,-9 4.5,-3 C7,6 18,18 34,28 Z" fill="#1a40cc" opacity="0.45"/>
  <path d="M-34,16 C-24,11 -14,3 -8.5,-6 C-6.5,-10 -5,-16 -4.5,-22 C-3.5,-16 -3,-10 -4.5,-5 C-8.5,4 -18,13 -34,23 Z" fill="#3177e2"/>
  <path d="M34,13 C24,8 15,1 10,-6 C7.5,-11 6,-16 5.2,-22 C4.5,-16 4.5,-10 5.5,-5 C8,2 18,12 34,20 Z" fill="#3177e2"/>
</g>
    <g fill="#751838" stroke="#b62e54" stroke-width="0.8">
      <ellipse cx="13.9" cy="54.2" rx="3.5" ry="2.1" opacity="1.00" transform="rotate(76 13.9 54.2)"/>
<ellipse cx="27.1" cy="99.1" rx="3.5" ry="2.3" opacity="0.90" transform="rotate(-62 27.1 99.1)"/>
<ellipse cx="-26.9" cy="-7.7" rx="3.3" ry="2.5" opacity="0.59" transform="rotate(-21 -26.9 -7.7)"/>
<ellipse cx="22.1" cy="-86.6" rx="3.2" ry="2.5" opacity="0.71" transform="rotate(75 22.1 -86.6)"/>
<ellipse cx="-2.7" cy="-56.8" rx="3.4" ry="2.6" opacity="1.00" transform="rotate(-38 -2.7 -56.8)"/>
<ellipse cx="6.7" cy="16.6" rx="3.3" ry="2.6" opacity="1.00" transform="rotate(-59 6.7 16.6)"/>
<ellipse cx="-31.6" cy="-63.5" rx="3.5" ry="2.3" opacity="0.56" transform="rotate(-79 -31.6 -63.5)"/>
<ellipse cx="-5.3" cy="93.3" rx="3.4" ry="2.6" opacity="1.00" transform="rotate(1 -5.3 93.3)"/>
<ellipse cx="14.4" cy="-76.2" rx="3.4" ry="2.0" opacity="0.96" transform="rotate(-71 14.4 -76.2)"/>
<ellipse cx="4.6" cy="-83.6" rx="3.2" ry="2.0" opacity="1.00" transform="rotate(-18 4.6 -83.6)"/>
<ellipse cx="-23.2" cy="83.2" rx="3.3" ry="2.5" opacity="0.54" transform="rotate(-32 -23.2 83.2)"/>
<ellipse cx="-19.4" cy="-63.7" rx="3.3" ry="2.4" opacity="0.92" transform="rotate(68 -19.4 -63.7)"/>
<ellipse cx="37.9" cy="83.4" rx="3.7" ry="2.8" opacity="0.56" transform="rotate(34 37.9 83.4)"/>
<ellipse cx="-4.2" cy="103.4" rx="3.2" ry="2.1" opacity="1.00" transform="rotate(78 -4.2 103.4)"/>
<ellipse cx="7.8" cy="39.8" rx="3.1" ry="2.4" opacity="1.00" transform="rotate(69 7.8 39.8)"/>
<ellipse cx="24.5" cy="-45.1" rx="3.4" ry="2.3" opacity="0.72" transform="rotate(38 24.5 -45.1)"/>
<ellipse cx="-10.7" cy="-74.8" rx="3.2" ry="2.4" opacity="1.00" transform="rotate(68 -10.7 -74.8)"/>
<ellipse cx="-25.8" cy="-97.4" rx="3.1" ry="2.3" opacity="0.81" transform="rotate(53 -25.8 -97.4)"/>
<ellipse cx="-25.6" cy="39.9" rx="3.4" ry="2.2" opacity="0.54" transform="rotate(-1 -25.6 39.9)"/>
<ellipse cx="-9.9" cy="-42.6" rx="3.0" ry="2.1" opacity="1.00" transform="rotate(-7 -9.9 -42.6)"/>
<ellipse cx="-8.8" cy="-4.2" rx="3.1" ry="2.8" opacity="1.00" transform="rotate(-25 -8.8 -4.2)"/>
<ellipse cx="8.9" cy="-99.2" rx="3.2" ry="2.6" opacity="1.00" transform="rotate(-38 8.9 -99.2)"/>
<ellipse cx="25.2" cy="-106.9" rx="3.2" ry="2.7" opacity="0.58" transform="rotate(39 25.2 -106.9)"/>
<ellipse cx="23.1" cy="77.3" rx="3.3" ry="2.5" opacity="0.99" transform="rotate(20 23.1 77.3)"/>
<ellipse cx="-23.2" cy="64.5" rx="3.2" ry="2.7" opacity="0.57" transform="rotate(-41 -23.2 64.5)"/>
<ellipse cx="-34.6" cy="-101.5" rx="3.6" ry="2.1" opacity="0.55" transform="rotate(-10 -34.6 -101.5)"/>
<ellipse cx="-12.5" cy="57.3" rx="3.0" ry="2.6" opacity="0.90" transform="rotate(-58 -12.5 57.3)"/>
<ellipse cx="-8.9" cy="-32.5" rx="3.0" ry="2.0" opacity="1.00" transform="rotate(10 -8.9 -32.5)"/>
<ellipse cx="8.2" cy="61.7" rx="3.3" ry="2.7" opacity="1.00" transform="rotate(52 8.2 61.7)"/>
<ellipse cx="-20.1" cy="99.9" rx="3.4" ry="2.1" opacity="0.61" transform="rotate(-74 -20.1 99.9)"/>
<ellipse cx="-24.9" cy="-35.7" rx="3.4" ry="2.5" opacity="0.71" transform="rotate(35 -24.9 -35.7)"/>
<ellipse cx="15.3" cy="93.7" rx="3.7" ry="2.1" opacity="1.00" transform="rotate(-45 15.3 93.7)"/>
<ellipse cx="3.0" cy="-42.0" rx="3.5" ry="2.1" opacity="1.00" transform="rotate(-70 3.0 -42.0)"/>
<ellipse cx="-28.6" cy="-78.7" rx="3.3" ry="2.5" opacity="0.68" transform="rotate(-69 -28.6 -78.7)"/>
<ellipse cx="21.2" cy="111.3" rx="3.5" ry="2.1" opacity="1.00" transform="rotate(63 21.2 111.3)"/>
<ellipse cx="13.1" cy="73.1" rx="3.6" ry="2.1" opacity="1.00" transform="rotate(23 13.1 73.1)"/>
<ellipse cx="-1.0" cy="-17.5" rx="3.2" ry="2.2" opacity="1.00" transform="rotate(41 -1.0 -17.5)"/>
<ellipse cx="-14.3" cy="77.2" rx="3.5" ry="2.4" opacity="0.81" transform="rotate(-80 -14.3 77.2)"/>
<ellipse cx="31.9" cy="-10.4" rx="3.3" ry="2.1" opacity="0.57" transform="rotate(64 31.9 -10.4)"/>
<ellipse cx="-26.0" cy="-51.0" rx="3.2" ry="2.8" opacity="0.70" transform="rotate(-45 -26.0 -51.0)"/>
<ellipse cx="-1.9" cy="64.1" rx="3.1" ry="2.3" opacity="1.00" transform="rotate(-47 -1.9 64.1)"/>
<ellipse cx="-2.8" cy="45.8" rx="3.3" ry="2.5" opacity="1.00" transform="rotate(-67 -2.8 45.8)"/>
<ellipse cx="-26.8" cy="10.5" rx="3.1" ry="2.1" opacity="0.56" transform="rotate(24 -26.8 10.5)"/>
<ellipse cx="-10.2" cy="38.4" rx="3.5" ry="2.4" opacity="1.00" transform="rotate(-1 -10.2 38.4)"/>
<ellipse cx="-1.8" cy="76.8" rx="3.6" ry="2.1" opacity="1.00" transform="rotate(12 -1.8 76.8)"/>
<ellipse cx="38.6" cy="102.3" rx="3.3" ry="2.4" opacity="0.57" transform="rotate(-37 38.6 102.3)"/>
<ellipse cx="12.1" cy="-17.7" rx="3.4" ry="2.5" opacity="1.00" transform="rotate(64 12.1 -17.7)"/>
<ellipse cx="-1.0" cy="-26.8" rx="3.5" ry="2.7" opacity="1.00" transform="rotate(-13 -1.0 -26.8)"/>
<ellipse cx="-29.5" cy="-21.2" rx="3.1" ry="2.2" opacity="0.54" transform="rotate(-33 -29.5 -21.2)"/>
<ellipse cx="-12.2" cy="-20.2" rx="3.6" ry="2.2" opacity="1.00" transform="rotate(-23 -12.2 -20.2)"/>
<ellipse cx="-12.0" cy="-103.9" rx="3.4" ry="2.8" opacity="1.00" transform="rotate(21 -12.0 -103.9)"/>
<ellipse cx="14.0" cy="102.7" rx="3.5" ry="2.3" opacity="1.00" transform="rotate(-61 14.0 102.7)"/>
<ellipse cx="21.6" cy="-18.1" rx="3.4" ry="2.7" opacity="0.86" transform="rotate(-64 21.6 -18.1)"/>
<ellipse cx="7.5" cy="-33.3" rx="3.0" ry="2.8" opacity="1.00" transform="rotate(13 7.5 -33.3)"/>
<ellipse cx="30.6" cy="-26.9" rx="3.4" ry="2.6" opacity="0.58" transform="rotate(-19 30.6 -26.9)"/>
<ellipse cx="37.1" cy="92.7" rx="3.3" ry="2.3" opacity="0.60" transform="rotate(-38 37.1 92.7)"/>
<ellipse cx="-18.9" cy="27.3" rx="3.0" ry="2.6" opacity="0.76" transform="rotate(-65 -18.9 27.3)"/>
<ellipse cx="16.7" cy="-57.0" rx="3.6" ry="2.1" opacity="0.93" transform="rotate(-14 16.7 -57.0)"/>
<ellipse cx="-9.3" cy="6.7" rx="3.1" ry="2.8" opacity="1.00" transform="rotate(-32 -9.3 6.7)"/>
<ellipse cx="5.6" cy="93.3" rx="3.6" ry="2.4" opacity="1.00" transform="rotate(46 5.6 93.3)"/>
<ellipse cx="20.3" cy="-68.0" rx="3.3" ry="2.2" opacity="0.80" transform="rotate(-63 20.3 -68.0)"/>
<ellipse cx="-23.6" cy="49.9" rx="3.4" ry="2.2" opacity="0.59" transform="rotate(-76 -23.6 49.9)"/>
<ellipse cx="39.2" cy="111.6" rx="3.4" ry="2.7" opacity="0.57" transform="rotate(-63 39.2 111.6)"/>
<ellipse cx="-20.1" cy="-86.0" rx="3.3" ry="2.1" opacity="0.95" transform="rotate(71 -20.1 -86.0)"/>
<ellipse cx="11.5" cy="-111.9" rx="3.1" ry="2.4" opacity="0.97" transform="rotate(43 11.5 -111.9)"/>
<ellipse cx="-5.3" cy="-89.7" rx="3.7" ry="2.4" opacity="1.00" transform="rotate(-67 -5.3 -89.7)"/>
<ellipse cx="-23.0" cy="-106.4" rx="3.2" ry="2.4" opacity="0.91" transform="rotate(-10 -23.0 -106.4)"/>
<ellipse cx="-3.0" cy="28.0" rx="3.3" ry="2.2" opacity="1.00" transform="rotate(76 -3.0 28.0)"/>
<ellipse cx="5.9" cy="-60.2" rx="3.6" ry="2.3" opacity="1.00" transform="rotate(2 5.9 -60.2)"/>
<ellipse cx="-0.1" cy="-73.7" rx="3.6" ry="2.3" opacity="1.00" transform="rotate(21 -0.1 -73.7)"/>
<ellipse cx="34.2" cy="66.0" rx="3.4" ry="2.1" opacity="0.64" transform="rotate(50 34.2 66.0)"/>
<ellipse cx="-16.9" cy="-94.6" rx="3.7" ry="2.4" opacity="1.00" transform="rotate(-71 -16.9 -94.6)"/>
<ellipse cx="13.5" cy="-43.3" rx="3.6" ry="2.5" opacity="1.00" transform="rotate(-9 13.5 -43.3)"/>
<ellipse cx="-12.6" cy="-52.0" rx="3.2" ry="2.6" opacity="1.00" transform="rotate(0 -12.6 -52.0)"/>
<ellipse cx="28.5" cy="84.8" rx="3.3" ry="2.6" opacity="0.84" transform="rotate(-39 28.5 84.8)"/>
<ellipse cx="24.8" cy="47.7" rx="3.1" ry="2.2" opacity="0.89" transform="rotate(17 24.8 47.7)"/>
<ellipse cx="24.2" cy="-95.8" rx="3.5" ry="2.1" opacity="0.63" transform="rotate(31 24.2 -95.8)"/>
<ellipse cx="17.5" cy="-31.1" rx="3.1" ry="2.1" opacity="0.96" transform="rotate(80 17.5 -31.1)"/>
<ellipse cx="-2.8" cy="-100.1" rx="3.3" ry="2.5" opacity="1.00" transform="rotate(-66 -2.8 -100.1)"/>
<ellipse cx="1.8" cy="111.8" rx="3.1" ry="2.6" opacity="1.00" transform="rotate(57 1.8 111.8)"/>
<ellipse cx="29.5" cy="-63.5" rx="3.4" ry="2.2" opacity="0.54" transform="rotate(-63 29.5 -63.5)"/>
<ellipse cx="-18.5" cy="4.1" rx="3.0" ry="2.6" opacity="0.82" transform="rotate(-23 -18.5 4.1)"/>
    </g>
   <path d="M20.25,0 C26,1 31,3 33.75,6 C36,11 37,16 37.5,21 L38.25,36 L36.75,41.25 C32,40 29,38 26.25,34.5 C23,31 20.5,28.5 18.75,25.5 C16,21 14.5,17 14.25,13.5 C14.5,8 17,3 20.25,0 Z" fill="#6e1730" opacity="0.75"/>
<g fill="#8c1830" stroke="#5a0c1e" stroke-width="0.7">
<ellipse cx="19.9" cy="4.3" rx="3.1" ry="2.4" transform="rotate(21 19.9 4.3)"/>
<ellipse cx="26.0" cy="3.8" rx="3.1" ry="2.4" transform="rotate(-75 26.0 3.8)"/>
<ellipse cx="34.0" cy="32.1" rx="3.1" ry="2.4" transform="rotate(-24 34.0 32.1)"/>
<ellipse cx="27.0" cy="15.1" rx="3.1" ry="2.4" transform="rotate(-36 27.0 15.1)"/>
<ellipse cx="30.0" cy="10.9" rx="3.1" ry="2.4" transform="rotate(-11 30.0 10.9)"/>
<ellipse cx="18.8" cy="13.0" rx="3.1" ry="2.4" transform="rotate(80 18.8 13.0)"/>
<ellipse cx="23.7" cy="10.5" rx="3.1" ry="2.4" transform="rotate(-17 23.7 10.5)"/>
<ellipse cx="36.1" cy="35.6" rx="3.1" ry="2.4" transform="rotate(50 36.1 35.6)"/>
<ellipse cx="18.9" cy="17.8" rx="3.1" ry="2.4" transform="rotate(-7 18.9 17.8)"/>
<ellipse cx="27.4" cy="19.8" rx="3.1" ry="2.4" transform="rotate(7 27.4 19.8)"/>
<ellipse cx="28.7" cy="26.6" rx="3.1" ry="2.4" transform="rotate(-30 28.7 26.6)"/>
<ellipse cx="33.1" cy="25.8" rx="3.1" ry="2.4" transform="rotate(-20 33.1 25.8)"/>
<ellipse cx="29.0" cy="6.7" rx="3.1" ry="2.4" transform="rotate(66 29.0 6.7)"/>
<ellipse cx="27.2" cy="32.5" rx="3.1" ry="2.4" transform="rotate(24 27.2 32.5)"/>
<ellipse cx="20.3" cy="22.1" rx="3.1" ry="2.4" transform="rotate(-21 20.3 22.1)"/>
<ellipse cx="23.7" cy="18.1" rx="3.1" ry="2.4" transform="rotate(66 23.7 18.1)"/>
<ellipse cx="22.4" cy="27.6" rx="3.1" ry="2.4" transform="rotate(0 22.4 27.6)"/>
<ellipse cx="34.4" cy="22.2" rx="3.1" ry="2.4" transform="rotate(-12 34.4 22.2)"/>
<ellipse cx="33.2" cy="16.0" rx="3.1" ry="2.4" transform="rotate(-24 33.2 16.0)"/>
<ellipse cx="31.1" cy="36.2" rx="3.1" ry="2.4" transform="rotate(4 31.1 36.2)"/>
<ellipse cx="35.7" cy="28.7" rx="3.1" ry="2.4" transform="rotate(17 35.7 28.7)"/>
<ellipse cx="35.6" cy="39.4" rx="3.1" ry="2.4" transform="rotate(8 35.6 39.4)"/>
<ellipse cx="20.6" cy="8.3" rx="3.1" ry="2.4" transform="rotate(-32 20.6 8.3)"/>
<ellipse cx="30.8" cy="29.9" rx="3.1" ry="2.4" transform="rotate(-61 30.8 29.9)"/>
<ellipse cx="26.1" cy="23.6" rx="3.1" ry="2.4" transform="rotate(-46 26.1 23.6)"/>
<ellipse cx="31.3" cy="19.6" rx="3.1" ry="2.4" transform="rotate(79 31.3 19.6)"/>
<ellipse cx="22.7" cy="14.1" rx="3.1" ry="2.4" transform="rotate(-40 22.7 14.1)"/>
</g>
   <clipPath id="vc5"><path d="M-50.80,-116 L-50.21,-108 L-49.62,-100 L-49.04,-92 L-48.47,-84 L-47.90,-76 L-47.34,-68 L-46.78,-60 L-46.24,-52 L-45.69,-44 L-45.16,-36 L-44.63,-28 L-44.10,-20 L-43.59,-12 L-43.07,-4 L-42.57,4 L-42.07,12 L-41.58,20 L-41.09,28 L-40.61,36 L-40.13,44 L-39.66,52 L-39.20,60 L-38.74,68 L-38.29,76 L-37.85,84 L-37.41,92 L-36.98,100 L-36.55,108 L-36.13,116 L53.07,116 L52.65,108 L52.22,100 L51.79,92 L51.35,84 L50.91,76 L50.46,68 L50.00,60 L49.54,52 L49.07,44 L48.59,36 L48.11,28 L47.62,20 L47.13,12 L46.63,4 L46.13,-4 L45.61,-12 L45.10,-20 L44.57,-28 L44.04,-36 L43.51,-44 L42.96,-52 L42.42,-60 L41.86,-68 L41.30,-76 L40.73,-84 L40.16,-92 L39.58,-100 L38.99,-108 L38.40,-116 Z"/></clipPath>
   <ellipse rx="108.75" ry="105" fill="none" stroke="#2648b4" stroke-width="5" clip-path="url(#vc5)" opacity="0.85"/>
  </g>
  <g transform="translate(-0.25 -1)"><path d="M-54.5,69 C-52,60 -51,56 -50.5,53 C-46,35 -43.5,15 -44.3,0 C-44.8,-10 -45.5,-20 -46.5,-27 C-47.5,-32 -48.5,-36 -50,-41.5 L-46.5,-44 L-60.9,-64.5 L-64.3,-40 L-56,-41 C-54,-35 -53,-31 -52.3,-27 C-51,-18 -50.5,-9 -50.2,0 C-50,12 -51,30 -53.7,53 C-54,58 -54.2,63 -54.5,69 Z" fill="#0a0a0a"/></g>
</g>

<g transform="translate(684.5 375)">
  <ellipse rx="108.75" ry="105.5" fill="#f2dbd0" stroke="#968e88" stroke-width="1.1"/>
  <g clip-path="url(#cc)">
    <g fill="none" stroke-linejoin="round">
<path d="M-9.94,-116 L-8.76,-108 L-7.62,-100 L-6.53,-92 L-5.49,-84 L-4.49,-76 L-3.54,-68 L-2.64,-60 L-1.78,-52 L-0.97,-44 L-0.21,-36 L0.51,-28 L1.18,-20 L1.80,-12 L2.38,-4 L2.91,4 L3.39,12 L3.83,20 L4.22,28 L4.57,36 L4.87,44 L5.12,52 L5.33,60 L5.49,68 L5.60,76 L5.67,84 L5.69,92 L5.66,100 L5.59,108 L5.47,116" stroke="#3177e2" stroke-width="89.2"/>
<path d="M-8.79,-116 L-7.61,-108 L-6.47,-100 L-5.38,-92 L-4.34,-84 L-3.34,-76 L-2.39,-68 L-1.49,-60 L-0.63,-52 L0.18,-44 L0.94,-36 L1.66,-28 L2.33,-20 L2.95,-12 L3.53,-4 L4.06,4 L4.54,12 L4.98,20 L5.37,28 L5.72,36 L6.02,44 L6.27,52 L6.48,60 L6.64,68 L6.75,76 L6.82,84 L6.84,92 L6.81,100 L6.74,108 L6.62,116" stroke="#173bcb" stroke-width="68.30"/>
<path d="M-8.79,-116 L-7.61,-108 L-6.47,-100 L-5.38,-92 L-4.34,-84 L-3.34,-76 L-2.39,-68 L-1.49,-60 L-0.63,-52 L0.18,-44 L0.94,-36 L1.66,-28 L2.33,-20 L2.95,-12 L3.53,-4 L4.06,4 L4.54,12 L4.98,20 L5.37,28 L5.72,36 L6.02,44 L6.27,52 L6.48,60 L6.64,68 L6.75,76 L6.82,84 L6.84,92 L6.81,100 L6.74,108 L6.62,116" stroke="#183dcd" stroke-width="65.57"/>
<path d="M-8.79,-116 L-7.61,-108 L-6.47,-100 L-5.38,-92 L-4.34,-84 L-3.34,-76 L-2.39,-68 L-1.49,-60 L-0.63,-52 L0.18,-44 L0.94,-36 L1.66,-28 L2.33,-20 L2.95,-12 L3.53,-4 L4.06,4 L4.54,12 L4.98,20 L5.37,28 L5.72,36 L6.02,44 L6.27,52 L6.48,60 L6.64,68 L6.75,76 L6.82,84 L6.84,92 L6.81,100 L6.74,108 L6.62,116" stroke="#183fce" stroke-width="62.84"/>
<path d="M-8.79,-116 L-7.61,-108 L-6.47,-100 L-5.38,-92 L-4.34,-84 L-3.34,-76 L-2.39,-68 L-1.49,-60 L-0.63,-52 L0.18,-44 L0.94,-36 L1.66,-28 L2.33,-20 L2.95,-12 L3.53,-4 L4.06,4 L4.54,12 L4.98,20 L5.37,28 L5.72,36 L6.02,44 L6.27,52 L6.48,60 L6.64,68 L6.75,76 L6.82,84 L6.84,92 L6.81,100 L6.74,108 L6.62,116" stroke="#1941d0" stroke-width="60.10"/>
<path d="M-8.79,-116 L-7.61,-108 L-6.47,-100 L-5.38,-92 L-4.34,-84 L-3.34,-76 L-2.39,-68 L-1.49,-60 L-0.63,-52 L0.18,-44 L0.94,-36 L1.66,-28 L2.33,-20 L2.95,-12 L3.53,-4 L4.06,4 L4.54,12 L4.98,20 L5.37,28 L5.72,36 L6.02,44 L6.27,52 L6.48,60 L6.64,68 L6.75,76 L6.82,84 L6.84,92 L6.81,100 L6.74,108 L6.62,116" stroke="#1a43d2" stroke-width="57.37"/>
<path d="M-8.79,-116 L-7.61,-108 L-6.47,-100 L-5.38,-92 L-4.34,-84 L-3.34,-76 L-2.39,-68 L-1.49,-60 L-0.63,-52 L0.18,-44 L0.94,-36 L1.66,-28 L2.33,-20 L2.95,-12 L3.53,-4 L4.06,4 L4.54,12 L4.98,20 L5.37,28 L5.72,36 L6.02,44 L6.27,52 L6.48,60 L6.64,68 L6.75,76 L6.82,84 L6.84,92 L6.81,100 L6.74,108 L6.62,116" stroke="#1f4bd5" stroke-width="54.64"/>
<path d="M-8.79,-116 L-7.61,-108 L-6.47,-100 L-5.38,-92 L-4.34,-84 L-3.34,-76 L-2.39,-68 L-1.49,-60 L-0.63,-52 L0.18,-44 L0.94,-36 L1.66,-28 L2.33,-20 L2.95,-12 L3.53,-4 L4.06,4 L4.54,12 L4.98,20 L5.37,28 L5.72,36 L6.02,44 L6.27,52 L6.48,60 L6.64,68 L6.75,76 L6.82,84 L6.84,92 L6.81,100 L6.74,108 L6.62,116" stroke="#2352d7" stroke-width="51.91"/>
<path d="M-8.79,-116 L-7.61,-108 L-6.47,-100 L-5.38,-92 L-4.34,-84 L-3.34,-76 L-2.39,-68 L-1.49,-60 L-0.63,-52 L0.18,-44 L0.94,-36 L1.66,-28 L2.33,-20 L2.95,-12 L3.53,-4 L4.06,4 L4.54,12 L4.98,20 L5.37,28 L5.72,36 L6.02,44 L6.27,52 L6.48,60 L6.64,68 L6.75,76 L6.82,84 L6.84,92 L6.81,100 L6.74,108 L6.62,116" stroke="#285ada" stroke-width="49.18"/>
<path d="M-8.79,-116 L-7.61,-108 L-6.47,-100 L-5.38,-92 L-4.34,-84 L-3.34,-76 L-2.39,-68 L-1.49,-60 L-0.63,-52 L0.18,-44 L0.94,-36 L1.66,-28 L2.33,-20 L2.95,-12 L3.53,-4 L4.06,4 L4.54,12 L4.98,20 L5.37,28 L5.72,36 L6.02,44 L6.27,52 L6.48,60 L6.64,68 L6.75,76 L6.82,84 L6.84,92 L6.81,100 L6.74,108 L6.62,116" stroke="#2c61dc" stroke-width="46.44"/>
<path d="M-8.79,-116 L-7.61,-108 L-6.47,-100 L-5.38,-92 L-4.34,-84 L-3.34,-76 L-2.39,-68 L-1.49,-60 L-0.63,-52 L0.18,-44 L0.94,-36 L1.66,-28 L2.33,-20 L2.95,-12 L3.53,-4 L4.06,4 L4.54,12 L4.98,20 L5.37,28 L5.72,36 L6.02,44 L6.27,52 L6.48,60 L6.64,68 L6.75,76 L6.82,84 L6.84,92 L6.81,100 L6.74,108 L6.62,116" stroke="#3169df" stroke-width="43.71"/>
<path d="M-8.79,-116 L-7.61,-108 L-6.47,-100 L-5.38,-92 L-4.34,-84 L-3.34,-76 L-2.39,-68 L-1.49,-60 L-0.63,-52 L0.18,-44 L0.94,-36 L1.66,-28 L2.33,-20 L2.95,-12 L3.53,-4 L4.06,4 L4.54,12 L4.98,20 L5.37,28 L5.72,36 L6.02,44 L6.27,52 L6.48,60 L6.64,68 L6.75,76 L6.82,84 L6.84,92 L6.81,100 L6.74,108 L6.62,116" stroke="#3570e1" stroke-width="40.98"/>
<path d="M-8.79,-116 L-7.61,-108 L-6.47,-100 L-5.38,-92 L-4.34,-84 L-3.34,-76 L-2.39,-68 L-1.49,-60 L-0.63,-52 L0.18,-44 L0.94,-36 L1.66,-28 L2.33,-20 L2.95,-12 L3.53,-4 L4.06,4 L4.54,12 L4.98,20 L5.37,28 L5.72,36 L6.02,44 L6.27,52 L6.48,60 L6.64,68 L6.75,76 L6.82,84 L6.84,92 L6.81,100 L6.74,108 L6.62,116" stroke="#3a78e4" stroke-width="38.25"/>
<path d="M-8.79,-116 L-7.61,-108 L-6.47,-100 L-5.38,-92 L-4.34,-84 L-3.34,-76 L-2.39,-68 L-1.49,-60 L-0.63,-52 L0.18,-44 L0.94,-36 L1.66,-28 L2.33,-20 L2.95,-12 L3.53,-4 L4.06,4 L4.54,12 L4.98,20 L5.37,28 L5.72,36 L6.02,44 L6.27,52 L6.48,60 L6.64,68 L6.75,76 L6.82,84 L6.84,92 L6.81,100 L6.74,108 L6.62,116" stroke="#4782e7" stroke-width="35.52"/>
<path d="M-8.79,-116 L-7.61,-108 L-6.47,-100 L-5.38,-92 L-4.34,-84 L-3.34,-76 L-2.39,-68 L-1.49,-60 L-0.63,-52 L0.18,-44 L0.94,-36 L1.66,-28 L2.33,-20 L2.95,-12 L3.53,-4 L4.06,4 L4.54,12 L4.98,20 L5.37,28 L5.72,36 L6.02,44 L6.27,52 L6.48,60 L6.64,68 L6.75,76 L6.82,84 L6.84,92 L6.81,100 L6.74,108 L6.62,116" stroke="#538de9" stroke-width="32.78"/>
<path d="M-8.79,-116 L-7.61,-108 L-6.47,-100 L-5.38,-92 L-4.34,-84 L-3.34,-76 L-2.39,-68 L-1.49,-60 L-0.63,-52 L0.18,-44 L0.94,-36 L1.66,-28 L2.33,-20 L2.95,-12 L3.53,-4 L4.06,4 L4.54,12 L4.98,20 L5.37,28 L5.72,36 L6.02,44 L6.27,52 L6.48,60 L6.64,68 L6.75,76 L6.82,84 L6.84,92 L6.81,100 L6.74,108 L6.62,116" stroke="#6097ec" stroke-width="30.05"/>
<path d="M-8.79,-116 L-7.61,-108 L-6.47,-100 L-5.38,-92 L-4.34,-84 L-3.34,-76 L-2.39,-68 L-1.49,-60 L-0.63,-52 L0.18,-44 L0.94,-36 L1.66,-28 L2.33,-20 L2.95,-12 L3.53,-4 L4.06,4 L4.54,12 L4.98,20 L5.37,28 L5.72,36 L6.02,44 L6.27,52 L6.48,60 L6.64,68 L6.75,76 L6.82,84 L6.84,92 L6.81,100 L6.74,108 L6.62,116" stroke="#6ca1ee" stroke-width="27.32"/>
<path d="M-8.79,-116 L-7.61,-108 L-6.47,-100 L-5.38,-92 L-4.34,-84 L-3.34,-76 L-2.39,-68 L-1.49,-60 L-0.63,-52 L0.18,-44 L0.94,-36 L1.66,-28 L2.33,-20 L2.95,-12 L3.53,-4 L4.06,4 L4.54,12 L4.98,20 L5.37,28 L5.72,36 L6.02,44 L6.27,52 L6.48,60 L6.64,68 L6.75,76 L6.82,84 L6.84,92 L6.81,100 L6.74,108 L6.62,116" stroke="#79abf1" stroke-width="24.59"/>
<path d="M-8.79,-116 L-7.61,-108 L-6.47,-100 L-5.38,-92 L-4.34,-84 L-3.34,-76 L-2.39,-68 L-1.49,-60 L-0.63,-52 L0.18,-44 L0.94,-36 L1.66,-28 L2.33,-20 L2.95,-12 L3.53,-4 L4.06,4 L4.54,12 L4.98,20 L5.37,28 L5.72,36 L6.02,44 L6.27,52 L6.48,60 L6.64,68 L6.75,76 L6.82,84 L6.84,92 L6.81,100 L6.74,108 L6.62,116" stroke="#85b6f3" stroke-width="21.86"/>
<path d="M-8.79,-116 L-7.61,-108 L-6.47,-100 L-5.38,-92 L-4.34,-84 L-3.34,-76 L-2.39,-68 L-1.49,-60 L-0.63,-52 L0.18,-44 L0.94,-36 L1.66,-28 L2.33,-20 L2.95,-12 L3.53,-4 L4.06,4 L4.54,12 L4.98,20 L5.37,28 L5.72,36 L6.02,44 L6.27,52 L6.48,60 L6.64,68 L6.75,76 L6.82,84 L6.84,92 L6.81,100 L6.74,108 L6.62,116" stroke="#92c0f6" stroke-width="19.12"/>
<path d="M-8.79,-116 L-7.61,-108 L-6.47,-100 L-5.38,-92 L-4.34,-84 L-3.34,-76 L-2.39,-68 L-1.49,-60 L-0.63,-52 L0.18,-44 L0.94,-36 L1.66,-28 L2.33,-20 L2.95,-12 L3.53,-4 L4.06,4 L4.54,12 L4.98,20 L5.37,28 L5.72,36 L6.02,44 L6.27,52 L6.48,60 L6.64,68 L6.75,76 L6.82,84 L6.84,92 L6.81,100 L6.74,108 L6.62,116" stroke="#9ac6f7" stroke-width="16.39"/>
<path d="M-8.79,-116 L-7.61,-108 L-6.47,-100 L-5.38,-92 L-4.34,-84 L-3.34,-76 L-2.39,-68 L-1.49,-60 L-0.63,-52 L0.18,-44 L0.94,-36 L1.66,-28 L2.33,-20 L2.95,-12 L3.53,-4 L4.06,4 L4.54,12 L4.98,20 L5.37,28 L5.72,36 L6.02,44 L6.27,52 L6.48,60 L6.64,68 L6.75,76 L6.82,84 L6.84,92 L6.81,100 L6.74,108 L6.62,116" stroke="#a3cbf8" stroke-width="13.66"/>
<path d="M-8.79,-116 L-7.61,-108 L-6.47,-100 L-5.38,-92 L-4.34,-84 L-3.34,-76 L-2.39,-68 L-1.49,-60 L-0.63,-52 L0.18,-44 L0.94,-36 L1.66,-28 L2.33,-20 L2.95,-12 L3.53,-4 L4.06,4 L4.54,12 L4.98,20 L5.37,28 L5.72,36 L6.02,44 L6.27,52 L6.48,60 L6.64,68 L6.75,76 L6.82,84 L6.84,92 L6.81,100 L6.74,108 L6.62,116" stroke="#acd0f9" stroke-width="10.93"/>
<path d="M-8.79,-116 L-7.61,-108 L-6.47,-100 L-5.38,-92 L-4.34,-84 L-3.34,-76 L-2.39,-68 L-1.49,-60 L-0.63,-52 L0.18,-44 L0.94,-36 L1.66,-28 L2.33,-20 L2.95,-12 L3.53,-4 L4.06,4 L4.54,12 L4.98,20 L5.37,28 L5.72,36 L6.02,44 L6.27,52 L6.48,60 L6.64,68 L6.75,76 L6.82,84 L6.84,92 L6.81,100 L6.74,108 L6.62,116" stroke="#b4d6fa" stroke-width="8.20"/>
<path d="M-8.79,-116 L-7.61,-108 L-6.47,-100 L-5.38,-92 L-4.34,-84 L-3.34,-76 L-2.39,-68 L-1.49,-60 L-0.63,-52 L0.18,-44 L0.94,-36 L1.66,-28 L2.33,-20 L2.95,-12 L3.53,-4 L4.06,4 L4.54,12 L4.98,20 L5.37,28 L5.72,36 L6.02,44 L6.27,52 L6.48,60 L6.64,68 L6.75,76 L6.82,84 L6.84,92 L6.81,100 L6.74,108 L6.62,116" stroke="#b7d8fa" stroke-width="5.46"/>
<path d="M-8.79,-116 L-7.61,-108 L-6.47,-100 L-5.38,-92 L-4.34,-84 L-3.34,-76 L-2.39,-68 L-1.49,-60 L-0.63,-52 L0.18,-44 L0.94,-36 L1.66,-28 L2.33,-20 L2.95,-12 L3.53,-4 L4.06,4 L4.54,12 L4.98,20 L5.37,28 L5.72,36 L6.02,44 L6.27,52 L6.48,60 L6.64,68 L6.75,76 L6.82,84 L6.84,92 L6.81,100 L6.74,108 L6.62,116" stroke="#b9d9fb" stroke-width="2.73"/>
<path d="M-8.79,-116 L-7.61,-108 L-6.47,-100 L-5.38,-92 L-4.34,-84 L-3.34,-76 L-2.39,-68 L-1.49,-60 L-0.63,-52 L0.18,-44 L0.94,-36 L1.66,-28 L2.33,-20 L2.95,-12 L3.53,-4 L4.06,4 L4.54,12 L4.98,20 L5.37,28 L5.72,36 L6.02,44 L6.27,52 L6.48,60 L6.64,68 L6.75,76 L6.82,84 L6.84,92 L6.81,100 L6.74,108 L6.62,116" stroke="#bcdbfb" stroke-width="2.00"/>
</g>
<g transform="translate(5.32 30) rotate(-2.55)">
  <path d="M-4.5,-22 C-5,-16 -6.5,-10 -8.5,-6 C-14,3 -24,11 -34,16 L-34,-34 C-22,-36 -9,-34 -4.5,-22 Z" fill="url(#pocket)"/>
  <path d="M5.2,-22 C6,-16 7.5,-11 10,-6 C15,1 24,8 34,13 L34,-34 C24,-36 10,-34 5.2,-22 Z" fill="url(#pocket)"/>
  <path d="M-34,21 C-20,13 -10,4 -5.5,-5 C-4.5,-10 -4,-16 -4.5,-22 C-3,-16 -2,-9 -3,-3 C-6.5,8 -18,20 -34,32 Z" fill="#1a40cc" opacity="0.45"/>
  <path d="M34,18 C24,13 14,5 8,-4 C6,-10 5.5,-16 5.2,-22 C4,-16 3.5,-9 4.5,-3 C7,6 18,18 34,28 Z" fill="#1a40cc" opacity="0.45"/>
  <path d="M-34,16 C-24,11 -14,3 -8.5,-6 C-6.5,-10 -5,-16 -4.5,-22 C-3.5,-16 -3,-10 -4.5,-5 C-8.5,4 -18,13 -34,23 Z" fill="#3177e2"/>
  <path d="M34,13 C24,8 15,1 10,-6 C7.5,-11 6,-16 5.2,-22 C4.5,-16 4.5,-10 5.5,-5 C8,2 18,12 34,20 Z" fill="#3177e2"/>
</g>
    <g fill="#751838" stroke="#b62e54" stroke-width="0.8">
      <ellipse cx="5.4" cy="19.6" rx="3.3" ry="2.6" opacity="1.00" transform="rotate(70 5.4 19.6)"/>
<ellipse cx="-15.7" cy="2.7" rx="3.6" ry="2.0" opacity="0.88" transform="rotate(36 -15.7 2.7)"/>
<ellipse cx="14.7" cy="65.6" rx="3.3" ry="2.1" opacity="1.00" transform="rotate(-28 14.7 65.6)"/>
<ellipse cx="-25.1" cy="-44.0" rx="3.2" ry="2.6" opacity="0.71" transform="rotate(61 -25.1 -44.0)"/>
<ellipse cx="-18.8" cy="69.4" rx="3.0" ry="2.3" opacity="0.70" transform="rotate(3 -18.8 69.4)"/>
<ellipse cx="5.2" cy="-102.6" rx="3.0" ry="2.1" opacity="1.00" transform="rotate(-42 5.2 -102.6)"/>
<ellipse cx="36.8" cy="104.1" rx="3.0" ry="2.2" opacity="0.56" transform="rotate(15 36.8 104.1)"/>
<ellipse cx="14.9" cy="25.9" rx="3.4" ry="2.1" opacity="1.00" transform="rotate(-12 14.9 25.9)"/>
<ellipse cx="-29.0" cy="-108.6" rx="3.2" ry="2.6" opacity="0.83" transform="rotate(33 -29.0 -108.6)"/>
<ellipse cx="-4.5" cy="-98.7" rx="3.1" ry="2.2" opacity="1.00" transform="rotate(27 -4.5 -98.7)"/>
<ellipse cx="-20.6" cy="-57.8" rx="3.5" ry="2.3" opacity="0.89" transform="rotate(-35 -20.6 -57.8)"/>
<ellipse cx="-26.0" cy="-8.1" rx="3.6" ry="2.2" opacity="0.59" transform="rotate(-18 -26.0 -8.1)"/>
<ellipse cx="3.1" cy="76.7" rx="3.2" ry="2.2" opacity="1.00" transform="rotate(-33 3.1 76.7)"/>
<ellipse cx="6.7" cy="31.4" rx="3.0" ry="2.5" opacity="1.00" transform="rotate(-73 6.7 31.4)"/>
<ellipse cx="27.3" cy="46.5" rx="3.6" ry="2.8" opacity="0.82" transform="rotate(11 27.3 46.5)"/>
<ellipse cx="-19.1" cy="-96.3" rx="3.5" ry="2.7" opacity="1.00" transform="rotate(-32 -19.1 -96.3)"/>
<ellipse cx="35.3" cy="77.8" rx="3.5" ry="2.5" opacity="0.61" transform="rotate(-45 35.3 77.8)"/>
<ellipse cx="-33.2" cy="-65.0" rx="3.6" ry="2.2" opacity="0.54" transform="rotate(73 -33.2 -65.0)"/>
<ellipse cx="-21.2" cy="29.0" rx="3.1" ry="2.3" opacity="0.67" transform="rotate(21 -21.2 29.0)"/>
<ellipse cx="16.8" cy="-51.6" rx="3.0" ry="2.3" opacity="0.94" transform="rotate(-17 16.8 -51.6)"/>
<ellipse cx="35.3" cy="57.8" rx="3.3" ry="2.2" opacity="0.60" transform="rotate(-27 35.3 57.8)"/>
<ellipse cx="-31.1" cy="-98.6" rx="3.3" ry="2.4" opacity="0.72" transform="rotate(-55 -31.1 -98.6)"/>
<ellipse cx="15.6" cy="-72.2" rx="3.5" ry="2.2" opacity="0.90" transform="rotate(-53 15.6 -72.2)"/>
<ellipse cx="-13.0" cy="51.9" rx="3.2" ry="2.3" opacity="0.89" transform="rotate(-65 -13.0 51.9)"/>
<ellipse cx="-21.4" cy="-17.8" rx="3.4" ry="2.6" opacity="0.75" transform="rotate(-56 -21.4 -17.8)"/>
<ellipse cx="36.0" cy="68.0" rx="3.5" ry="2.0" opacity="0.58" transform="rotate(9 36.0 68.0)"/>
<ellipse cx="-5.4" cy="86.2" rx="3.3" ry="2.1" opacity="1.00" transform="rotate(-17 -5.4 86.2)"/>
<ellipse cx="-18.2" cy="109.6" rx="3.0" ry="2.4" opacity="0.72" transform="rotate(-15 -18.2 109.6)"/>
<ellipse cx="-20.6" cy="18.5" rx="3.3" ry="2.3" opacity="0.70" transform="rotate(14 -20.6 18.5)"/>
<ellipse cx="-10.9" cy="22.7" rx="3.0" ry="2.3" opacity="0.98" transform="rotate(-39 -10.9 22.7)"/>
<ellipse cx="11.5" cy="82.1" rx="3.4" ry="2.2" opacity="1.00" transform="rotate(63 11.5 82.1)"/>
<ellipse cx="-23.3" cy="-77.5" rx="3.1" ry="2.4" opacity="0.87" transform="rotate(27 -23.3 -77.5)"/>
<ellipse cx="-18.2" cy="-69.5" rx="3.7" ry="2.3" opacity="1.00" transform="rotate(18 -18.2 -69.5)"/>
<ellipse cx="21.7" cy="98.7" rx="3.7" ry="2.6" opacity="1.00" transform="rotate(12 21.7 98.7)"/>
<ellipse cx="-12.1" cy="100.8" rx="3.4" ry="2.3" opacity="0.90" transform="rotate(20 -12.1 100.8)"/>
<ellipse cx="-9.8" cy="-88.7" rx="3.2" ry="2.7" opacity="1.00" transform="rotate(-14 -9.8 -88.7)"/>
<ellipse cx="-8.4" cy="72.5" rx="3.3" ry="2.7" opacity="1.00" transform="rotate(61 -8.4 72.5)"/>
<ellipse cx="23.8" cy="-66.3" rx="3.1" ry="2.4" opacity="0.68" transform="rotate(-74 23.8 -66.3)"/>
<ellipse cx="-30.7" cy="-51.7" rx="3.3" ry="2.8" opacity="0.57" transform="rotate(-31 -30.7 -51.7)"/>
<ellipse cx="-18.6" cy="-29.4" rx="3.1" ry="2.2" opacity="0.86" transform="rotate(-56 -18.6 -29.4)"/>
<ellipse cx="0.3" cy="-82.5" rx="3.2" ry="2.0" opacity="1.00" transform="rotate(29 0.3 -82.5)"/>
<ellipse cx="-23.2" cy="91.9" rx="3.3" ry="2.2" opacity="0.57" transform="rotate(7 -23.2 91.9)"/>
<ellipse cx="5.2" cy="51.6" rx="3.5" ry="2.4" opacity="1.00" transform="rotate(-1 5.2 51.6)"/>
<ellipse cx="-4.6" cy="111.9" rx="3.4" ry="2.7" opacity="1.00" transform="rotate(20 -4.6 111.9)"/>
<ellipse cx="21.6" cy="89.6" rx="3.2" ry="2.3" opacity="1.00" transform="rotate(75 21.6 89.6)"/>
<ellipse cx="-3.3" cy="41.5" rx="3.2" ry="2.6" opacity="1.00" transform="rotate(62 -3.3 41.5)"/>
<ellipse cx="1.4" cy="65.1" rx="3.5" ry="2.8" opacity="1.00" transform="rotate(31 1.4 65.1)"/>
<ellipse cx="-2.7" cy="-60.4" rx="3.1" ry="2.5" opacity="1.00" transform="rotate(52 -2.7 -60.4)"/>
<ellipse cx="16.4" cy="-102.7" rx="3.4" ry="2.3" opacity="0.76" transform="rotate(-1 16.4 -102.7)"/>
<ellipse cx="-34.0" cy="-81.6" rx="3.5" ry="2.4" opacity="0.57" transform="rotate(-34 -34.0 -81.6)"/>
<ellipse cx="-10.2" cy="-106.5" rx="3.2" ry="2.3" opacity="1.00" transform="rotate(-42 -10.2 -106.5)"/>
<ellipse cx="-4.4" cy="-72.0" rx="3.4" ry="2.1" opacity="1.00" transform="rotate(-52 -4.4 -72.0)"/>
<ellipse cx="19.9" cy="-92.5" rx="3.0" ry="2.1" opacity="0.70" transform="rotate(-70 19.9 -92.5)"/>
<ellipse cx="7.3" cy="-66.1" rx="3.1" ry="2.4" opacity="1.00" transform="rotate(33 7.3 -66.1)"/>
<ellipse cx="15.0" cy="48.8" rx="3.3" ry="2.1" opacity="1.00" transform="rotate(44 15.0 48.8)"/>
<ellipse cx="35.3" cy="94.8" rx="3.6" ry="2.0" opacity="0.61" transform="rotate(59 35.3 94.8)"/>
<ellipse cx="-11.0" cy="-6.0" rx="3.4" ry="2.6" opacity="1.00" transform="rotate(-39 -11.0 -6.0)"/>
<ellipse cx="22.3" cy="-83.0" rx="3.5" ry="2.2" opacity="0.67" transform="rotate(-17 22.3 -83.0)"/>
<ellipse cx="6.1" cy="41.6" rx="3.2" ry="2.3" opacity="1.00" transform="rotate(35 6.1 41.6)"/>
<ellipse cx="27.9" cy="109.8" rx="3.6" ry="2.7" opacity="0.82" transform="rotate(41 27.9 109.8)"/>
<ellipse cx="19.3" cy="77.1" rx="3.3" ry="2.6" opacity="1.00" transform="rotate(11 19.3 77.1)"/>
<ellipse cx="-29.2" cy="-32.3" rx="3.6" ry="2.6" opacity="0.56" transform="rotate(20 -29.2 -32.3)"/>
<ellipse cx="-8.6" cy="-48.0" rx="3.3" ry="2.5" opacity="1.00" transform="rotate(-60 -8.6 -48.0)"/>
<ellipse cx="28.3" cy="-57.4" rx="3.1" ry="2.0" opacity="0.58" transform="rotate(-43 28.3 -57.4)"/>
<ellipse cx="8.3" cy="97.9" rx="3.7" ry="2.8" opacity="1.00" transform="rotate(14 8.3 97.9)"/>
<ellipse cx="-11.7" cy="-16.8" rx="3.5" ry="2.3" opacity="1.00" transform="rotate(-59 -11.7 -16.8)"/>
<ellipse cx="16.3" cy="109.6" rx="3.3" ry="2.7" opacity="1.00" transform="rotate(21 16.3 109.6)"/>
<ellipse cx="-6.4" cy="10.9" rx="3.0" ry="2.6" opacity="1.00" transform="rotate(78 -6.4 10.9)"/>
<ellipse cx="-18.3" cy="84.0" rx="3.0" ry="2.2" opacity="0.72" transform="rotate(-61 -18.3 84.0)"/>
<ellipse cx="-12.1" cy="36.3" rx="3.7" ry="2.1" opacity="0.93" transform="rotate(37 -12.1 36.3)"/>
<ellipse cx="-25.7" cy="3.5" rx="3.0" ry="2.4" opacity="0.58" transform="rotate(-27 -25.7 3.5)"/>
<ellipse cx="8.1" cy="-57.0" rx="3.3" ry="2.2" opacity="1.00" transform="rotate(-3 8.1 -57.0)"/>
<ellipse cx="3.9" cy="8.4" rx="3.6" ry="2.2" opacity="1.00" transform="rotate(48 3.9 8.4)"/>
<ellipse cx="26.1" cy="37.3" rx="3.4" ry="2.6" opacity="0.85" transform="rotate(-17 26.1 37.3)"/>
<ellipse cx="8.3" cy="-90.2" rx="3.3" ry="2.6" opacity="1.00" transform="rotate(77 8.3 -90.2)"/>
<ellipse cx="-11.7" cy="-36.4" rx="3.6" ry="2.1" opacity="1.00" transform="rotate(7 -11.7 -36.4)"/>
<ellipse cx="-3.8" cy="96.1" rx="3.1" ry="2.7" opacity="1.00" transform="rotate(-52 -3.8 96.1)"/>
<ellipse cx="22.5" cy="56.4" rx="3.3" ry="2.1" opacity="0.97" transform="rotate(-40 22.5 56.4)"/>
<ellipse cx="5.8" cy="110.8" rx="3.0" ry="2.5" opacity="1.00" transform="rotate(-28 5.8 110.8)"/>
<ellipse cx="19.9" cy="-111.9" rx="3.4" ry="2.2" opacity="0.62" transform="rotate(-57 19.9 -111.9)"/>
<ellipse cx="24.4" cy="65.2" rx="3.3" ry="2.3" opacity="0.92" transform="rotate(-44 24.4 65.2)"/>
<ellipse cx="-12.2" cy="-77.6" rx="3.0" ry="2.1" opacity="1.00" transform="rotate(-38 -12.2 -77.6)"/>
    </g>
   <path transform="translate(2.5 1)" d="M3,-43 C6,-46 10,-47 13,-46 C18,-47.5 23,-46 27,-44 C30,-43 32,-41 32,-39 C33,-35 33,-30 33,-26 L34.6,4 L35,34 L34,35 C28,33 23,30 19,26 C16,22 13,18 11,14 C9,10 6.5,7.5 4,4 C1.5,3.5 -0.5,1 0,-2 C-2.5,-4.5 -2.8,-9 -2,-12 C-4.5,-14.5 -4.8,-19 -4,-22 C-6,-25 -6,-29 -4.6,-32 C-5,-35 -3.5,-37.5 -1,-39 C-1,-41 0.5,-42.5 3,-43 Z" fill="url(#clot)" stroke="#5a1626" stroke-width="1.3"/>
   <clipPath id="vc11"><path d="M-54.54,-116 L-53.36,-108 L-52.22,-100 L-51.13,-92 L-50.09,-84 L-49.09,-76 L-48.14,-68 L-47.24,-60 L-46.38,-52 L-45.57,-44 L-44.81,-36 L-44.09,-28 L-43.42,-20 L-42.80,-12 L-42.22,-4 L-41.69,4 L-41.21,12 L-40.77,20 L-40.38,28 L-40.03,36 L-39.73,44 L-39.48,52 L-39.27,60 L-39.11,68 L-39.00,76 L-38.93,84 L-38.91,92 L-38.94,100 L-39.01,108 L-39.13,116 L50.07,116 L50.19,108 L50.26,100 L50.29,92 L50.27,84 L50.20,76 L50.09,68 L49.93,60 L49.72,52 L49.47,44 L49.17,36 L48.82,28 L48.43,20 L47.99,12 L47.51,4 L46.98,-4 L46.40,-12 L45.78,-20 L45.11,-28 L44.39,-36 L43.63,-44 L42.82,-52 L41.96,-60 L41.06,-68 L40.11,-76 L39.11,-84 L38.07,-92 L36.98,-100 L35.84,-108 L34.66,-116 Z"/></clipPath>
   <ellipse rx="108.75" ry="105.5" fill="none" stroke="#2648b4" stroke-width="5" clip-path="url(#vc11)" opacity="0.85"/>
  </g>
  <g transform="translate(-2.75 -1.8)"><path d="M-54.5,69 C-52,60 -51,56 -50.5,53 C-46,35 -43.5,15 -44.3,0 C-44.8,-10 -45.5,-20 -46.5,-27 C-47.5,-32 -48.5,-36 -50,-41.5 L-46.5,-44 L-60.9,-64.5 L-64.3,-40 L-56,-41 C-54,-35 -53,-31 -52.3,-27 C-51,-18 -50.5,-9 -50.2,0 C-50,12 -51,30 -53.7,53 C-54,58 -54.2,63 -54.5,69 Z" fill="#0a0a0a"/></g>
</g>

<g transform="translate(503.25 553)">
  <ellipse rx="108.75" ry="105" fill="#f2dbd0" stroke="#968e88" stroke-width="1.1"/>
  <g clip-path="url(#cc)">
    <g fill="none" stroke-linejoin="round">
<path d="M-10.76,-116 L-9.29,-108 L-7.90,-100 L-6.59,-92 L-5.35,-84 L-4.19,-76 L-3.11,-68 L-2.11,-60 L-1.18,-52 L-0.33,-44 L0.44,-36 L1.14,-28 L1.75,-20 L2.29,-12 L2.76,-4 L3.14,4 L3.45,12 L3.68,20 L3.84,28 L3.91,36 L3.91,44 L3.83,52 L3.68,60 L3.44,68 L3.13,76 L2.75,84 L2.28,92 L1.74,100 L1.12,108 L0.42,116" stroke="#3177e2" stroke-width="89.2"/>
<path d="M-9.61,-116 L-8.14,-108 L-6.75,-100 L-5.44,-92 L-4.20,-84 L-3.04,-76 L-1.96,-68 L-0.96,-60 L-0.03,-52 L0.82,-44 L1.59,-36 L2.29,-28 L2.90,-20 L3.44,-12 L3.91,-4 L4.29,4 L4.60,12 L4.83,20 L4.99,28 L5.06,36 L5.06,44 L4.98,52 L4.83,60 L4.59,68 L4.28,76 L3.90,84 L3.43,92 L2.89,100 L2.27,108 L1.57,116" stroke="#173bcb" stroke-width="68.30"/>
<path d="M-9.61,-116 L-8.14,-108 L-6.75,-100 L-5.44,-92 L-4.20,-84 L-3.04,-76 L-1.96,-68 L-0.96,-60 L-0.03,-52 L0.82,-44 L1.59,-36 L2.29,-28 L2.90,-20 L3.44,-12 L3.91,-4 L4.29,4 L4.60,12 L4.83,20 L4.99,28 L5.06,36 L5.06,44 L4.98,52 L4.83,60 L4.59,68 L4.28,76 L3.90,84 L3.43,92 L2.89,100 L2.27,108 L1.57,116" stroke="#183dcd" stroke-width="65.57"/>
<path d="M-9.61,-116 L-8.14,-108 L-6.75,-100 L-5.44,-92 L-4.20,-84 L-3.04,-76 L-1.96,-68 L-0.96,-60 L-0.03,-52 L0.82,-44 L1.59,-36 L2.29,-28 L2.90,-20 L3.44,-12 L3.91,-4 L4.29,4 L4.60,12 L4.83,20 L4.99,28 L5.06,36 L5.06,44 L4.98,52 L4.83,60 L4.59,68 L4.28,76 L3.90,84 L3.43,92 L2.89,100 L2.27,108 L1.57,116" stroke="#183fce" stroke-width="62.84"/>
<path d="M-9.61,-116 L-8.14,-108 L-6.75,-100 L-5.44,-92 L-4.20,-84 L-3.04,-76 L-1.96,-68 L-0.96,-60 L-0.03,-52 L0.82,-44 L1.59,-36 L2.29,-28 L2.90,-20 L3.44,-12 L3.91,-4 L4.29,4 L4.60,12 L4.83,20 L4.99,28 L5.06,36 L5.06,44 L4.98,52 L4.83,60 L4.59,68 L4.28,76 L3.90,84 L3.43,92 L2.89,100 L2.27,108 L1.57,116" stroke="#1941d0" stroke-width="60.10"/>
<path d="M-9.61,-116 L-8.14,-108 L-6.75,-100 L-5.44,-92 L-4.20,-84 L-3.04,-76 L-1.96,-68 L-0.96,-60 L-0.03,-52 L0.82,-44 L1.59,-36 L2.29,-28 L2.90,-20 L3.44,-12 L3.91,-4 L4.29,4 L4.60,12 L4.83,20 L4.99,28 L5.06,36 L5.06,44 L4.98,52 L4.83,60 L4.59,68 L4.28,76 L3.90,84 L3.43,92 L2.89,100 L2.27,108 L1.57,116" stroke="#1a43d2" stroke-width="57.37"/>
<path d="M-9.61,-116 L-8.14,-108 L-6.75,-100 L-5.44,-92 L-4.20,-84 L-3.04,-76 L-1.96,-68 L-0.96,-60 L-0.03,-52 L0.82,-44 L1.59,-36 L2.29,-28 L2.90,-20 L3.44,-12 L3.91,-4 L4.29,4 L4.60,12 L4.83,20 L4.99,28 L5.06,36 L5.06,44 L4.98,52 L4.83,60 L4.59,68 L4.28,76 L3.90,84 L3.43,92 L2.89,100 L2.27,108 L1.57,116" stroke="#1f4bd5" stroke-width="54.64"/>
<path d="M-9.61,-116 L-8.14,-108 L-6.75,-100 L-5.44,-92 L-4.20,-84 L-3.04,-76 L-1.96,-68 L-0.96,-60 L-0.03,-52 L0.82,-44 L1.59,-36 L2.29,-28 L2.90,-20 L3.44,-12 L3.91,-4 L4.29,4 L4.60,12 L4.83,20 L4.99,28 L5.06,36 L5.06,44 L4.98,52 L4.83,60 L4.59,68 L4.28,76 L3.90,84 L3.43,92 L2.89,100 L2.27,108 L1.57,116" stroke="#2352d7" stroke-width="51.91"/>
<path d="M-9.61,-116 L-8.14,-108 L-6.75,-100 L-5.44,-92 L-4.20,-84 L-3.04,-76 L-1.96,-68 L-0.96,-60 L-0.03,-52 L0.82,-44 L1.59,-36 L2.29,-28 L2.90,-20 L3.44,-12 L3.91,-4 L4.29,4 L4.60,12 L4.83,20 L4.99,28 L5.06,36 L5.06,44 L4.98,52 L4.83,60 L4.59,68 L4.28,76 L3.90,84 L3.43,92 L2.89,100 L2.27,108 L1.57,116" stroke="#285ada" stroke-width="49.18"/>
<path d="M-9.61,-116 L-8.14,-108 L-6.75,-100 L-5.44,-92 L-4.20,-84 L-3.04,-76 L-1.96,-68 L-0.96,-60 L-0.03,-52 L0.82,-44 L1.59,-36 L2.29,-28 L2.90,-20 L3.44,-12 L3.91,-4 L4.29,4 L4.60,12 L4.83,20 L4.99,28 L5.06,36 L5.06,44 L4.98,52 L4.83,60 L4.59,68 L4.28,76 L3.90,84 L3.43,92 L2.89,100 L2.27,108 L1.57,116" stroke="#2c61dc" stroke-width="46.44"/>
<path d="M-9.61,-116 L-8.14,-108 L-6.75,-100 L-5.44,-92 L-4.20,-84 L-3.04,-76 L-1.96,-68 L-0.96,-60 L-0.03,-52 L0.82,-44 L1.59,-36 L2.29,-28 L2.90,-20 L3.44,-12 L3.91,-4 L4.29,4 L4.60,12 L4.83,20 L4.99,28 L5.06,36 L5.06,44 L4.98,52 L4.83,60 L4.59,68 L4.28,76 L3.90,84 L3.43,92 L2.89,100 L2.27,108 L1.57,116" stroke="#3169df" stroke-width="43.71"/>
<path d="M-9.61,-116 L-8.14,-108 L-6.75,-100 L-5.44,-92 L-4.20,-84 L-3.04,-76 L-1.96,-68 L-0.96,-60 L-0.03,-52 L0.82,-44 L1.59,-36 L2.29,-28 L2.90,-20 L3.44,-12 L3.91,-4 L4.29,4 L4.60,12 L4.83,20 L4.99,28 L5.06,36 L5.06,44 L4.98,52 L4.83,60 L4.59,68 L4.28,76 L3.90,84 L3.43,92 L2.89,100 L2.27,108 L1.57,116" stroke="#3570e1" stroke-width="40.98"/>
<path d="M-9.61,-116 L-8.14,-108 L-6.75,-100 L-5.44,-92 L-4.20,-84 L-3.04,-76 L-1.96,-68 L-0.96,-60 L-0.03,-52 L0.82,-44 L1.59,-36 L2.29,-28 L2.90,-20 L3.44,-12 L3.91,-4 L4.29,4 L4.60,12 L4.83,20 L4.99,28 L5.06,36 L5.06,44 L4.98,52 L4.83,60 L4.59,68 L4.28,76 L3.90,84 L3.43,92 L2.89,100 L2.27,108 L1.57,116" stroke="#3a78e4" stroke-width="38.25"/>
<path d="M-9.61,-116 L-8.14,-108 L-6.75,-100 L-5.44,-92 L-4.20,-84 L-3.04,-76 L-1.96,-68 L-0.96,-60 L-0.03,-52 L0.82,-44 L1.59,-36 L2.29,-28 L2.90,-20 L3.44,-12 L3.91,-4 L4.29,4 L4.60,12 L4.83,20 L4.99,28 L5.06,36 L5.06,44 L4.98,52 L4.83,60 L4.59,68 L4.28,76 L3.90,84 L3.43,92 L2.89,100 L2.27,108 L1.57,116" stroke="#4782e7" stroke-width="35.52"/>
<path d="M-9.61,-116 L-8.14,-108 L-6.75,-100 L-5.44,-92 L-4.20,-84 L-3.04,-76 L-1.96,-68 L-0.96,-60 L-0.03,-52 L0.82,-44 L1.59,-36 L2.29,-28 L2.90,-20 L3.44,-12 L3.91,-4 L4.29,4 L4.60,12 L4.83,20 L4.99,28 L5.06,36 L5.06,44 L4.98,52 L4.83,60 L4.59,68 L4.28,76 L3.90,84 L3.43,92 L2.89,100 L2.27,108 L1.57,116" stroke="#538de9" stroke-width="32.78"/>
<path d="M-9.61,-116 L-8.14,-108 L-6.75,-100 L-5.44,-92 L-4.20,-84 L-3.04,-76 L-1.96,-68 L-0.96,-60 L-0.03,-52 L0.82,-44 L1.59,-36 L2.29,-28 L2.90,-20 L3.44,-12 L3.91,-4 L4.29,4 L4.60,12 L4.83,20 L4.99,28 L5.06,36 L5.06,44 L4.98,52 L4.83,60 L4.59,68 L4.28,76 L3.90,84 L3.43,92 L2.89,100 L2.27,108 L1.57,116" stroke="#6097ec" stroke-width="30.05"/>
<path d="M-9.61,-116 L-8.14,-108 L-6.75,-100 L-5.44,-92 L-4.20,-84 L-3.04,-76 L-1.96,-68 L-0.96,-60 L-0.03,-52 L0.82,-44 L1.59,-36 L2.29,-28 L2.90,-20 L3.44,-12 L3.91,-4 L4.29,4 L4.60,12 L4.83,20 L4.99,28 L5.06,36 L5.06,44 L4.98,52 L4.83,60 L4.59,68 L4.28,76 L3.90,84 L3.43,92 L2.89,100 L2.27,108 L1.57,116" stroke="#6ca1ee" stroke-width="27.32"/>
<path d="M-9.61,-116 L-8.14,-108 L-6.75,-100 L-5.44,-92 L-4.20,-84 L-3.04,-76 L-1.96,-68 L-0.96,-60 L-0.03,-52 L0.82,-44 L1.59,-36 L2.29,-28 L2.90,-20 L3.44,-12 L3.91,-4 L4.29,4 L4.60,12 L4.83,20 L4.99,28 L5.06,36 L5.06,44 L4.98,52 L4.83,60 L4.59,68 L4.28,76 L3.90,84 L3.43,92 L2.89,100 L2.27,108 L1.57,116" stroke="#79abf1" stroke-width="24.59"/>
<path d="M-9.61,-116 L-8.14,-108 L-6.75,-100 L-5.44,-92 L-4.20,-84 L-3.04,-76 L-1.96,-68 L-0.96,-60 L-0.03,-52 L0.82,-44 L1.59,-36 L2.29,-28 L2.90,-20 L3.44,-12 L3.91,-4 L4.29,4 L4.60,12 L4.83,20 L4.99,28 L5.06,36 L5.06,44 L4.98,52 L4.83,60 L4.59,68 L4.28,76 L3.90,84 L3.43,92 L2.89,100 L2.27,108 L1.57,116" stroke="#85b6f3" stroke-width="21.86"/>
<path d="M-9.61,-116 L-8.14,-108 L-6.75,-100 L-5.44,-92 L-4.20,-84 L-3.04,-76 L-1.96,-68 L-0.96,-60 L-0.03,-52 L0.82,-44 L1.59,-36 L2.29,-28 L2.90,-20 L3.44,-12 L3.91,-4 L4.29,4 L4.60,12 L4.83,20 L4.99,28 L5.06,36 L5.06,44 L4.98,52 L4.83,60 L4.59,68 L4.28,76 L3.90,84 L3.43,92 L2.89,100 L2.27,108 L1.57,116" stroke="#92c0f6" stroke-width="19.12"/>
<path d="M-9.61,-116 L-8.14,-108 L-6.75,-100 L-5.44,-92 L-4.20,-84 L-3.04,-76 L-1.96,-68 L-0.96,-60 L-0.03,-52 L0.82,-44 L1.59,-36 L2.29,-28 L2.90,-20 L3.44,-12 L3.91,-4 L4.29,4 L4.60,12 L4.83,20 L4.99,28 L5.06,36 L5.06,44 L4.98,52 L4.83,60 L4.59,68 L4.28,76 L3.90,84 L3.43,92 L2.89,100 L2.27,108 L1.57,116" stroke="#9ac6f7" stroke-width="16.39"/>
<path d="M-9.61,-116 L-8.14,-108 L-6.75,-100 L-5.44,-92 L-4.20,-84 L-3.04,-76 L-1.96,-68 L-0.96,-60 L-0.03,-52 L0.82,-44 L1.59,-36 L2.29,-28 L2.90,-20 L3.44,-12 L3.91,-4 L4.29,4 L4.60,12 L4.83,20 L4.99,28 L5.06,36 L5.06,44 L4.98,52 L4.83,60 L4.59,68 L4.28,76 L3.90,84 L3.43,92 L2.89,100 L2.27,108 L1.57,116" stroke="#a3cbf8" stroke-width="13.66"/>
<path d="M-9.61,-116 L-8.14,-108 L-6.75,-100 L-5.44,-92 L-4.20,-84 L-3.04,-76 L-1.96,-68 L-0.96,-60 L-0.03,-52 L0.82,-44 L1.59,-36 L2.29,-28 L2.90,-20 L3.44,-12 L3.91,-4 L4.29,4 L4.60,12 L4.83,20 L4.99,28 L5.06,36 L5.06,44 L4.98,52 L4.83,60 L4.59,68 L4.28,76 L3.90,84 L3.43,92 L2.89,100 L2.27,108 L1.57,116" stroke="#acd0f9" stroke-width="10.93"/>
<path d="M-9.61,-116 L-8.14,-108 L-6.75,-100 L-5.44,-92 L-4.20,-84 L-3.04,-76 L-1.96,-68 L-0.96,-60 L-0.03,-52 L0.82,-44 L1.59,-36 L2.29,-28 L2.90,-20 L3.44,-12 L3.91,-4 L4.29,4 L4.60,12 L4.83,20 L4.99,28 L5.06,36 L5.06,44 L4.98,52 L4.83,60 L4.59,68 L4.28,76 L3.90,84 L3.43,92 L2.89,100 L2.27,108 L1.57,116" stroke="#b4d6fa" stroke-width="8.20"/>
<path d="M-9.61,-116 L-8.14,-108 L-6.75,-100 L-5.44,-92 L-4.20,-84 L-3.04,-76 L-1.96,-68 L-0.96,-60 L-0.03,-52 L0.82,-44 L1.59,-36 L2.29,-28 L2.90,-20 L3.44,-12 L3.91,-4 L4.29,4 L4.60,12 L4.83,20 L4.99,28 L5.06,36 L5.06,44 L4.98,52 L4.83,60 L4.59,68 L4.28,76 L3.90,84 L3.43,92 L2.89,100 L2.27,108 L1.57,116" stroke="#b7d8fa" stroke-width="5.46"/>
<path d="M-9.61,-116 L-8.14,-108 L-6.75,-100 L-5.44,-92 L-4.20,-84 L-3.04,-76 L-1.96,-68 L-0.96,-60 L-0.03,-52 L0.82,-44 L1.59,-36 L2.29,-28 L2.90,-20 L3.44,-12 L3.91,-4 L4.29,4 L4.60,12 L4.83,20 L4.99,28 L5.06,36 L5.06,44 L4.98,52 L4.83,60 L4.59,68 L4.28,76 L3.90,84 L3.43,92 L2.89,100 L2.27,108 L1.57,116" stroke="#b9d9fb" stroke-width="2.73"/>
<path d="M-9.61,-116 L-8.14,-108 L-6.75,-100 L-5.44,-92 L-4.20,-84 L-3.04,-76 L-1.96,-68 L-0.96,-60 L-0.03,-52 L0.82,-44 L1.59,-36 L2.29,-28 L2.90,-20 L3.44,-12 L3.91,-4 L4.29,4 L4.60,12 L4.83,20 L4.99,28 L5.06,36 L5.06,44 L4.98,52 L4.83,60 L4.59,68 L4.28,76 L3.90,84 L3.43,92 L2.89,100 L2.27,108 L1.57,116" stroke="#bcdbfb" stroke-width="2.00"/>
</g>
<g transform="translate(4.86 30) rotate(-0.69)">
  <path d="M-4.5,-22 C-5,-16 -6.5,-10 -8.5,-6 C-14,3 -24,11 -34,16 L-34,-34 C-22,-36 -9,-34 -4.5,-22 Z" fill="url(#pocket)"/>
  <path d="M5.2,-22 C6,-16 7.5,-11 10,-6 C15,1 24,8 34,13 L34,-34 C24,-36 10,-34 5.2,-22 Z" fill="url(#pocket)"/>
  <path d="M-34,21 C-20,13 -10,4 -5.5,-5 C-4.5,-10 -4,-16 -4.5,-22 C-3,-16 -2,-9 -3,-3 C-6.5,8 -18,20 -34,32 Z" fill="#1a40cc" opacity="0.45"/>
  <path d="M34,18 C24,13 14,5 8,-4 C6,-10 5.5,-16 5.2,-22 C4,-16 3.5,-9 4.5,-3 C7,6 18,18 34,28 Z" fill="#1a40cc" opacity="0.45"/>
  <path d="M-34,16 C-24,11 -14,3 -8.5,-6 C-6.5,-10 -5,-16 -4.5,-22 C-3.5,-16 -3,-10 -4.5,-5 C-8.5,4 -18,13 -34,23 Z" fill="#3177e2"/>
  <path d="M34,13 C24,8 15,1 10,-6 C7.5,-11 6,-16 5.2,-22 C4.5,-16 4.5,-10 5.5,-5 C8,2 18,12 34,20 Z" fill="#3177e2"/>
</g>
    <g fill="#751838" stroke="#b62e54" stroke-width="0.8">
      <ellipse cx="5.9" cy="68.7" rx="3.7" ry="2.1" opacity="1.00" transform="rotate(-37 5.9 68.7)"/>
<ellipse cx="29.2" cy="-47.1" rx="3.3" ry="2.2" opacity="0.60" transform="rotate(-65 29.2 -47.1)"/>
<ellipse cx="21.6" cy="45.7" rx="3.2" ry="2.3" opacity="0.96" transform="rotate(23 21.6 45.7)"/>
<ellipse cx="-27.0" cy="-25.9" rx="3.1" ry="2.0" opacity="0.59" transform="rotate(-77 -27.0 -25.9)"/>
<ellipse cx="14.9" cy="-55.5" rx="3.6" ry="2.4" opacity="0.99" transform="rotate(-6 14.9 -55.5)"/>
<ellipse cx="24.5" cy="99.7" rx="3.3" ry="2.6" opacity="0.81" transform="rotate(-28 24.5 99.7)"/>
<ellipse cx="-4.2" cy="111.7" rx="3.1" ry="2.5" opacity="1.00" transform="rotate(59 -4.2 111.7)"/>
<ellipse cx="-22.8" cy="70.0" rx="3.7" ry="2.6" opacity="0.65" transform="rotate(-32 -22.8 70.0)"/>
<ellipse cx="20.0" cy="-78.2" rx="3.5" ry="2.6" opacity="0.76" transform="rotate(14 20.0 -78.2)"/>
<ellipse cx="26.8" cy="-65.0" rx="3.2" ry="2.0" opacity="0.61" transform="rotate(-69 26.8 -65.0)"/>
<ellipse cx="6.3" cy="85.7" rx="3.6" ry="2.5" opacity="1.00" transform="rotate(-55 6.3 85.7)"/>
<ellipse cx="-23.1" cy="98.5" rx="3.2" ry="2.3" opacity="0.69" transform="rotate(-48 -23.1 98.5)"/>
<ellipse cx="-23.0" cy="56.5" rx="3.6" ry="2.3" opacity="0.63" transform="rotate(-66 -23.0 56.5)"/>
<ellipse cx="-6.4" cy="102.9" rx="3.4" ry="2.3" opacity="1.00" transform="rotate(-71 -6.4 102.9)"/>
<ellipse cx="-3.0" cy="61.5" rx="3.2" ry="2.2" opacity="1.00" transform="rotate(42 -3.0 61.5)"/>
<ellipse cx="6.2" cy="102.5" rx="3.3" ry="2.1" opacity="1.00" transform="rotate(0 6.2 102.5)"/>
<ellipse cx="-14.2" cy="23.3" rx="3.6" ry="2.7" opacity="0.89" transform="rotate(38 -14.2 23.3)"/>
<ellipse cx="-7.0" cy="91.6" rx="3.3" ry="2.6" opacity="1.00" transform="rotate(25 -7.0 91.6)"/>
<ellipse cx="-5.7" cy="-7.4" rx="3.1" ry="2.2" opacity="1.00" transform="rotate(-46 -5.7 -7.4)"/>
<ellipse cx="-24.3" cy="109.0" rx="3.1" ry="2.3" opacity="0.68" transform="rotate(5 -24.3 109.0)"/>
<ellipse cx="17.5" cy="-107.4" rx="3.4" ry="2.2" opacity="0.69" transform="rotate(50 17.5 -107.4)"/>
<ellipse cx="9.1" cy="41.7" rx="3.0" ry="2.0" opacity="1.00" transform="rotate(-61 9.1 41.7)"/>
<ellipse cx="-1.1" cy="51.9" rx="3.5" ry="2.7" opacity="1.00" transform="rotate(-38 -1.1 51.9)"/>
<ellipse cx="-25.8" cy="-64.4" rx="3.0" ry="2.4" opacity="0.74" transform="rotate(-18 -25.8 -64.4)"/>
<ellipse cx="21.2" cy="-91.2" rx="3.0" ry="2.5" opacity="0.67" transform="rotate(72 21.2 -91.2)"/>
<ellipse cx="21.2" cy="75.9" rx="3.2" ry="2.5" opacity="0.95" transform="rotate(80 21.2 75.9)"/>
<ellipse cx="-32.1" cy="-92.9" rx="3.5" ry="2.1" opacity="0.68" transform="rotate(50 -32.1 -92.9)"/>
<ellipse cx="-20.3" cy="-45.9" rx="3.4" ry="2.5" opacity="0.84" transform="rotate(46 -20.3 -45.9)"/>
<ellipse cx="-16.2" cy="-105.6" rx="3.6" ry="2.5" opacity="1.00" transform="rotate(16 -16.2 -105.6)"/>
<ellipse cx="35.9" cy="57.1" rx="3.1" ry="2.0" opacity="0.53" transform="rotate(68 35.9 57.1)"/>
<ellipse cx="-10.3" cy="-32.4" rx="3.4" ry="2.6" opacity="1.00" transform="rotate(-58 -10.3 -32.4)"/>
<ellipse cx="0.8" cy="1.0" rx="3.0" ry="2.0" opacity="1.00" transform="rotate(67 0.8 1.0)"/>
<ellipse cx="-30.5" cy="-53.0" rx="3.5" ry="2.3" opacity="0.56" transform="rotate(-19 -30.5 -53.0)"/>
<ellipse cx="34.8" cy="73.1" rx="3.1" ry="2.6" opacity="0.55" transform="rotate(-35 34.8 73.1)"/>
<ellipse cx="-25.7" cy="-6.3" rx="3.7" ry="2.3" opacity="0.59" transform="rotate(17 -25.7 -6.3)"/>
<ellipse cx="-25.1" cy="8.2" rx="3.7" ry="2.6" opacity="0.59" transform="rotate(-4 -25.1 8.2)"/>
<ellipse cx="-15.0" cy="8.7" rx="3.5" ry="2.4" opacity="0.88" transform="rotate(-38 -15.0 8.7)"/>
<ellipse cx="32.4" cy="-21.2" rx="3.1" ry="2.4" opacity="0.57" transform="rotate(-66 32.4 -21.2)"/>
<ellipse cx="4.3" cy="-25.0" rx="3.2" ry="2.6" opacity="1.00" transform="rotate(-30 4.3 -25.0)"/>
<ellipse cx="6.3" cy="58.3" rx="3.3" ry="2.4" opacity="1.00" transform="rotate(-39 6.3 58.3)"/>
<ellipse cx="-0.8" cy="26.1" rx="3.6" ry="2.2" opacity="1.00" transform="rotate(-79 -0.8 26.1)"/>
<ellipse cx="-15.6" cy="47.4" rx="3.4" ry="2.2" opacity="0.85" transform="rotate(-54 -15.6 47.4)"/>
<ellipse cx="-35.0" cy="-84.6" rx="3.1" ry="2.0" opacity="0.55" transform="rotate(-75 -35.0 -84.6)"/>
<ellipse cx="2.8" cy="-15.6" rx="3.2" ry="2.2" opacity="1.00" transform="rotate(-23 2.8 -15.6)"/>
<ellipse cx="-25.0" cy="-35.9" rx="3.6" ry="2.5" opacity="0.67" transform="rotate(-52 -25.0 -35.9)"/>
<ellipse cx="-7.9" cy="81.4" rx="3.0" ry="2.7" opacity="1.00" transform="rotate(17 -7.9 81.4)"/>
<ellipse cx="23.5" cy="86.9" rx="3.5" ry="2.5" opacity="0.86" transform="rotate(-75 23.5 86.9)"/>
<ellipse cx="-20.1" cy="-94.4" rx="3.2" ry="2.4" opacity="1.00" transform="rotate(-14 -20.1 -94.4)"/>
<ellipse cx="-14.2" cy="-22.0" rx="3.6" ry="2.0" opacity="0.96" transform="rotate(13 -14.2 -22.0)"/>
<ellipse cx="-24.4" cy="86.3" rx="3.4" ry="2.2" opacity="0.62" transform="rotate(-66 -24.4 86.3)"/>
    </g>
   <path d="M-4.75,-99.7 C3,-99.7 9,-93 10.5,-83 C12.5,-71 8,-57 -0.5,-53.5 C-9,-50 -18,-58 -20,-70 C-22,-84 -15,-99.7 -4.75,-99.7 Z" fill="url(#clot)" stroke="#5a1626" stroke-width="1.3"/>
<path d="M1.65,-3.7 C2,-7 4,-8.5 6.05,-8.1 C8,-9 10,-8.5 11.25,-7.2 C13,-5.5 12.5,-2.5 13.05,-0.2 C15,3 18.5,4.5 21.75,5 C25,6.2 29,6.5 32.25,5.9 C35,5 36.8,3 37.55,1.5 L38.35,20.8 L37.55,34.8 C34,34 31,32 28.75,29.5 C24.5,25.5 21.5,21.5 18.25,17.3 C15,13.5 12.5,10 9.55,6.8 C7.5,5 5.8,3 4.25,1.5 C2.8,0 1.6,-1.5 1.65,-3.7 Z" fill="url(#clot)" stroke="#5a1626" stroke-width="1.3"/>
<path d="M5.65,-47.8 L19.15,-45.7 L14.75,-41.4 L29.65,-9 L20.05,-4.6 L6.85,-36.1 L-0.15,-37.9 Z" fill="#0c0c10"/>

   <clipPath id="vc17"><path d="M-55.36,-116 L-53.89,-108 L-52.50,-100 L-51.19,-92 L-49.95,-84 L-48.79,-76 L-47.71,-68 L-46.71,-60 L-45.78,-52 L-44.93,-44 L-44.16,-36 L-43.46,-28 L-42.85,-20 L-42.31,-12 L-41.84,-4 L-41.46,4 L-41.15,12 L-40.92,20 L-40.76,28 L-40.69,36 L-40.69,44 L-40.77,52 L-40.92,60 L-41.16,68 L-41.47,76 L-41.85,84 L-42.32,92 L-42.86,100 L-43.48,108 L-44.18,116 L45.02,116 L45.72,108 L46.34,100 L46.88,92 L47.35,84 L47.73,76 L48.04,68 L48.28,60 L48.43,52 L48.51,44 L48.51,36 L48.44,28 L48.28,20 L48.05,12 L47.74,4 L47.36,-4 L46.89,-12 L46.35,-20 L45.74,-28 L45.04,-36 L44.27,-44 L43.42,-52 L42.49,-60 L41.49,-68 L40.41,-76 L39.25,-84 L38.01,-92 L36.70,-100 L35.31,-108 L33.84,-116 Z"/></clipPath>
   <ellipse rx="108.75" ry="105" fill="none" stroke="#2648b4" stroke-width="5" clip-path="url(#vc17)" opacity="0.85"/>
  </g>
  <g transform="translate(-1.9500000000000002 0)"><path d="M-54.5,69 C-52,60 -51,56 -50.5,53 C-46,35 -43.5,15 -44.3,0 C-44.8,-10 -45.5,-20 -46.5,-27 C-47.5,-32 -48.5,-36 -50,-41.5 L-46.5,-44 L-60.9,-64.5 L-64.3,-40 L-56,-41 C-54,-35 -53,-31 -52.3,-27 C-51,-18 -50.5,-9 -50.2,0 C-50,12 -51,30 -53.7,53 C-54,58 -54.2,63 -54.5,69 Z" fill="#0a0a0a"/></g>
</g>
<text transform="translate(60 182) scale(1.038 1)" font-size="31">Normal</text>
<text transform="translate(630.5 254.3) scale(1.064 1)" font-size="31">Trombo</text>
<text transform="translate(405 418) scale(1.06 1)" font-size="31">Êmbolo</text>
<text x="416" y="72.5" font-size="31">1</text>
<text transform="translate(560 315.7) scale(1.12 1)" font-size="31">2</text>
<text transform="translate(394.6 476) scale(1.06 1)" font-size="31">3</text>
</g>
</svg>
</body></html>
